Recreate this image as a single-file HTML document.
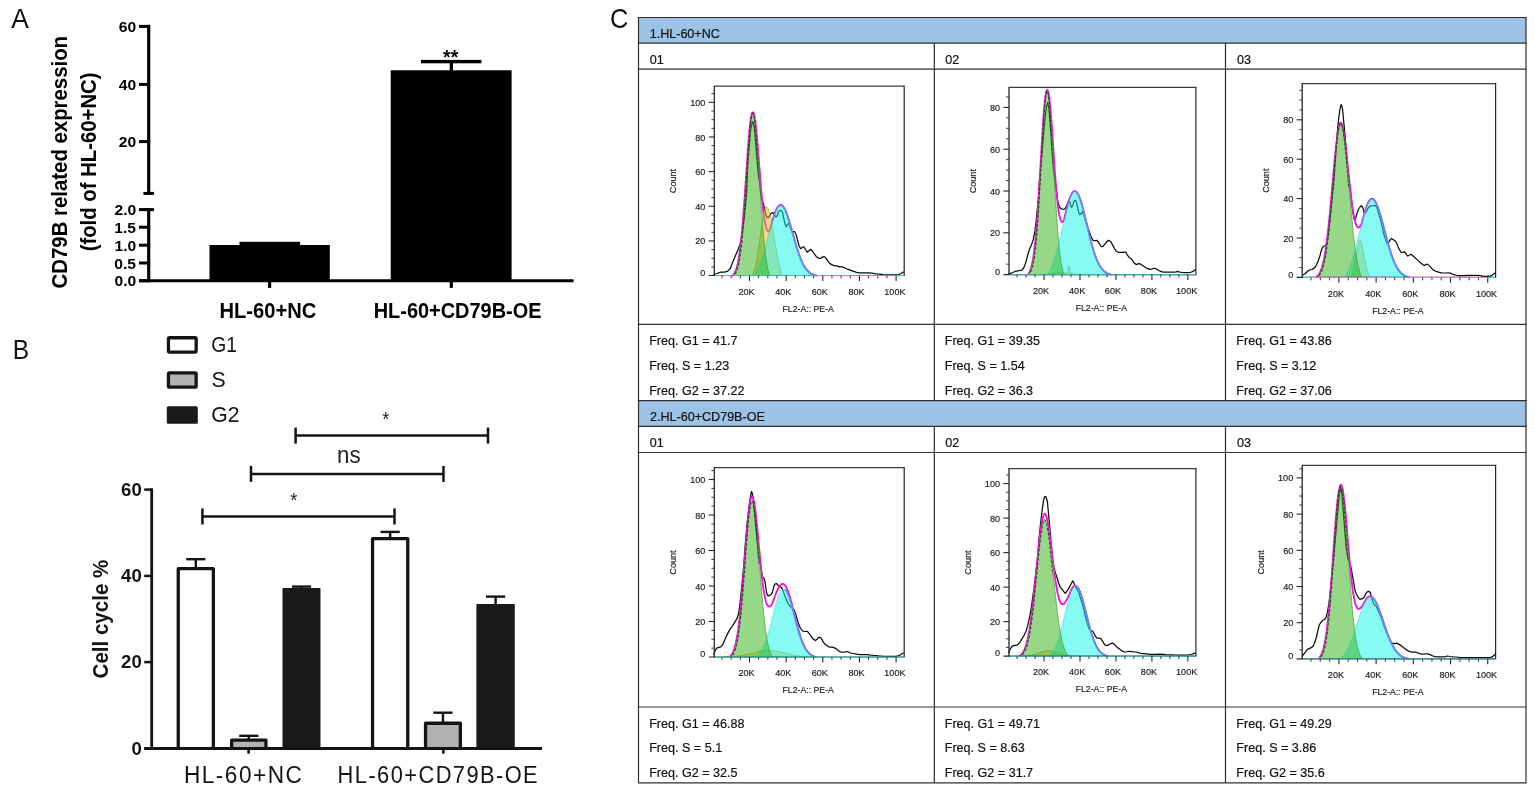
<!DOCTYPE html>
<html lang="en">
<head>
<meta charset="utf-8">
<title>Figure</title>
<style>
html,body{margin:0;padding:0;background:#fff;}
body{width:1535px;height:792px;overflow:hidden;}
svg{display:block;font-family:'Liberation Sans', sans-serif;}
</style>
</head>
<body>
<svg width="1535" height="792" viewBox="0 0 1535 792">
<rect x="0" y="0" width="1535" height="792" fill="#ffffff"/>
<g id="panelA">
<text transform="translate(11.33 28) scale(0.9334 1)" font-size="28.3" fill="#111" >A</text>
<line x1="148.7" y1="24.8" x2="148.7" y2="194.8" stroke="#000" stroke-width="3.2" />
<line x1="139" y1="26.4" x2="148.7" y2="26.4" stroke="#000" stroke-width="3" />
<line x1="139" y1="84.4" x2="148.7" y2="84.4" stroke="#000" stroke-width="3" />
<line x1="139" y1="141.6" x2="148.7" y2="141.6" stroke="#000" stroke-width="3" />
<line x1="143.4" y1="193.4" x2="154" y2="193.4" stroke="#000" stroke-width="3" />
<line x1="148.7" y1="208.2" x2="148.7" y2="282.2" stroke="#000" stroke-width="3.2" />
<line x1="143.4" y1="209.6" x2="154" y2="209.6" stroke="#000" stroke-width="3" />
<line x1="139" y1="209.6" x2="148.7" y2="209.6" stroke="#000" stroke-width="3" />
<line x1="139" y1="227.2" x2="148.7" y2="227.2" stroke="#000" stroke-width="3" />
<line x1="139" y1="245.2" x2="148.7" y2="245.2" stroke="#000" stroke-width="3" />
<line x1="139" y1="263" x2="148.7" y2="263" stroke="#000" stroke-width="3" />
<line x1="139" y1="280.7" x2="148.7" y2="280.7" stroke="#000" stroke-width="3" />
<line x1="139" y1="280.8" x2="573.6" y2="280.8" stroke="#000" stroke-width="3" />
<line x1="269.6" y1="280.8" x2="269.6" y2="287.9" stroke="#000" stroke-width="3.2" />
<line x1="451.3" y1="280.8" x2="451.3" y2="287.9" stroke="#000" stroke-width="3.2" />
<text transform="translate(118.85 32.1) scale(1.0300 1)" font-size="15.2" fill="#000" font-weight="bold" >60</text>
<text transform="translate(118.85 90.1) scale(1.0300 1)" font-size="15.2" fill="#000" font-weight="bold" >40</text>
<text transform="translate(118.85 147.3) scale(1.0300 1)" font-size="15.2" fill="#000" font-weight="bold" >20</text>
<text transform="translate(114.46 215.3) scale(1.0300 1)" font-size="15.2" fill="#000" font-weight="bold" >2.0</text>
<text transform="translate(114.27 232.9) scale(1.0300 1)" font-size="15.2" fill="#000" font-weight="bold" >1.5</text>
<text transform="translate(114.46 250.9) scale(1.0300 1)" font-size="15.2" fill="#000" font-weight="bold" >1.0</text>
<text transform="translate(114.27 268.7) scale(1.0300 1)" font-size="15.2" fill="#000" font-weight="bold" >0.5</text>
<text transform="translate(114.46 286.4) scale(1.0300 1)" font-size="15.2" fill="#000" font-weight="bold" >0.0</text>
<rect x="209.5" y="245" width="120.3" height="36" fill="#000" />
<rect x="239.5" y="241.8" width="60.6" height="3.6" fill="#000" />
<rect x="390.7" y="70.3" width="120.9" height="211" fill="#000" />
<rect x="421" y="59.9" width="60.5" height="3.4" fill="#000" />
<rect x="449.7" y="61" width="3.3" height="10" fill="#000" />
<text transform="translate(443.05 64.2) scale(0.9992 1)" font-size="19.5" fill="#000" font-weight="bold" >**</text>
<text transform="translate(219.44 317.6) scale(0.9333 1)" font-size="21.6" fill="#000" font-weight="bold" >HL-60+NC</text>
<text transform="translate(373.65 317.6) scale(0.9240 1)" font-size="21.6" fill="#000" font-weight="bold" >HL-60+CD79B-OE</text>
<text transform="translate(67.1 288.42) rotate(-90) scale(0.9348 1)" font-size="21.8" fill="#000" font-weight="bold">CD79B related expression</text>
<text transform="translate(96 251.32) rotate(-90) scale(0.9327 1)" font-size="21.8" fill="#000" font-weight="bold">(fold of HL-60+NC)</text>
</g>
<g id="panelB">
<text transform="translate(12.77 358.8) scale(0.9044 1)" font-size="27.2" fill="#111" >B</text>
<rect x="168.45" y="337.75" width="27.7" height="14.3" fill="#fff" stroke="#141414" stroke-width="3.3" rx="1.2"/>
<rect x="168.45" y="372.95" width="27.7" height="14.2" fill="#b2b2b2" stroke="#141414" stroke-width="3.3" rx="1.2"/>
<rect x="166.8" y="406.3" width="31" height="17.5" fill="#1a1a1a" rx="1.5"/>
<text transform="translate(211.33 352.1) scale(0.8796 1)" font-size="22" fill="#141414" >G1</text>
<text transform="translate(211.44 387) scale(0.9681 1)" font-size="22" fill="#141414" >S</text>
<text transform="translate(211.24 422.1) scale(0.9626 1)" font-size="22" fill="#141414" >G2</text>
<line x1="151.7" y1="488.3" x2="151.7" y2="749.8" stroke="#141414" stroke-width="2.8" />
<line x1="144.2" y1="489.6" x2="151.7" y2="489.6" stroke="#141414" stroke-width="2.5" />
<line x1="144.2" y1="575.9" x2="151.7" y2="575.9" stroke="#141414" stroke-width="2.5" />
<line x1="144.2" y1="662.1" x2="151.7" y2="662.1" stroke="#141414" stroke-width="2.5" />
<line x1="144.2" y1="748.4" x2="151.7" y2="748.4" stroke="#141414" stroke-width="2.5" />
<line x1="248.6" y1="748.4" x2="248.6" y2="753.7" stroke="#141414" stroke-width="2.6" />
<line x1="443.3" y1="748.4" x2="443.3" y2="753.7" stroke="#141414" stroke-width="2.6" />
<text transform="translate(121.1 495.9) scale(1.0000 1)" font-size="18.6" fill="#141414" font-weight="bold" >60</text>
<text transform="translate(121.1 582.2) scale(1.0000 1)" font-size="18.6" fill="#141414" font-weight="bold" >40</text>
<text transform="translate(121.1 668.4) scale(1.0000 1)" font-size="18.6" fill="#141414" font-weight="bold" >20</text>
<text transform="translate(131.42 754.7) scale(1.0000 1)" font-size="18.6" fill="#141414" font-weight="bold" >0</text>
<text transform="translate(108.1 678.42) rotate(-90) scale(0.9423 1)" font-size="21.8" fill="#141414" font-weight="bold">Cell cycle %</text>
<line x1="195.8" y1="559.2" x2="195.8" y2="568" stroke="#141414" stroke-width="2.4" />
<line x1="186.2" y1="559.2" x2="205.4" y2="559.2" stroke="#141414" stroke-width="2.4" />
<rect x="178.25" y="568.65" width="35.1" height="181.4" fill="#fff" />
<path d="M178.25,748.4 V568.65 H213.35 V748.4" fill="none" stroke="#141414" stroke-width="3.3" stroke-linejoin="round"/>
<line x1="248.8" y1="735.8" x2="248.8" y2="739.5" stroke="#141414" stroke-width="2.4" />
<line x1="239.2" y1="735.8" x2="258.4" y2="735.8" stroke="#141414" stroke-width="2.4" />
<rect x="231.65" y="740.15" width="34.3" height="9.9" fill="#b2b2b2" />
<path d="M231.65,748.4 V740.15 H265.95 V748.4" fill="none" stroke="#141414" stroke-width="3.3" stroke-linejoin="round"/>
<line x1="301.5" y1="586.6" x2="301.5" y2="589" stroke="#141414" stroke-width="2.4" />
<line x1="291.9" y1="586.6" x2="311.1" y2="586.6" stroke="#141414" stroke-width="2.4" />
<rect x="282.5" y="588" width="38" height="160.4" fill="#1a1a1a" rx="0.8"/>
<line x1="390.15" y1="531.9" x2="390.15" y2="538" stroke="#141414" stroke-width="2.4" />
<line x1="380.55" y1="531.9" x2="399.75" y2="531.9" stroke="#141414" stroke-width="2.4" />
<rect x="372.55" y="538.65" width="35.2" height="211.4" fill="#fff" />
<path d="M372.55,748.4 V538.65 H407.75 V748.4" fill="none" stroke="#141414" stroke-width="3.3" stroke-linejoin="round"/>
<line x1="442.95" y1="712.7" x2="442.95" y2="722.6" stroke="#141414" stroke-width="2.4" />
<line x1="433.35" y1="712.7" x2="452.55" y2="712.7" stroke="#141414" stroke-width="2.4" />
<rect x="425.55" y="723.25" width="34.8" height="26.8" fill="#b2b2b2" />
<path d="M425.55,748.4 V723.25 H460.35 V748.4" fill="none" stroke="#141414" stroke-width="3.3" stroke-linejoin="round"/>
<line x1="495.6" y1="596.6" x2="495.6" y2="605" stroke="#141414" stroke-width="2.4" />
<line x1="486" y1="596.6" x2="505.2" y2="596.6" stroke="#141414" stroke-width="2.4" />
<rect x="476.4" y="604" width="38.4" height="144.4" fill="#1a1a1a" rx="0.8"/>
<line x1="144.2" y1="748.5" x2="542" y2="748.5" stroke="#141414" stroke-width="2.8" />
<line x1="202.4" y1="516.5" x2="394.5" y2="516.5" stroke="#141414" stroke-width="2.5" />
<line x1="202.4" y1="508.5" x2="202.4" y2="524.5" stroke="#141414" stroke-width="2.5" />
<line x1="394.5" y1="508.5" x2="394.5" y2="524.5" stroke="#141414" stroke-width="2.5" />
<line x1="251" y1="473.9" x2="443.5" y2="473.9" stroke="#141414" stroke-width="2.5" />
<line x1="251" y1="465.9" x2="251" y2="481.9" stroke="#141414" stroke-width="2.5" />
<line x1="443.5" y1="465.9" x2="443.5" y2="481.9" stroke="#141414" stroke-width="2.5" />
<line x1="295.6" y1="435.6" x2="488" y2="435.6" stroke="#141414" stroke-width="2.5" />
<line x1="295.6" y1="427.6" x2="295.6" y2="443.6" stroke="#141414" stroke-width="2.5" />
<line x1="488" y1="427.6" x2="488" y2="443.6" stroke="#141414" stroke-width="2.5" />
<text transform="translate(290.18 507) scale(0.9294 1)" font-size="19.7" fill="#222" >*</text>
<text transform="translate(337.09 463.3) scale(0.9556 1)" font-size="23.4" fill="#222" >ns</text>
<text transform="translate(382.28 425.8) scale(0.9151 1)" font-size="19.7" fill="#222" >*</text>
<text transform="translate(183.93 782.9) scale(0.9351 1)" font-size="24.2" fill="#141414" letter-spacing="1.6" >HL-60+NC</text>
<text transform="translate(337.6 782.9) scale(0.9023 1)" font-size="24.2" fill="#141414" letter-spacing="1.6" >HL-60+CD79B-OE</text>
</g>
<g id="panelC">
<text transform="translate(610.03 28) scale(0.8959 1)" font-size="28.3" fill="#111" >C</text>
<rect x="638.5" y="17.5" width="887.5" height="25.6" fill="#9cc2e5" />
<rect x="638.5" y="400.6" width="887.5" height="25.8" fill="#9cc2e5" />
<line x1="637.9" y1="17.5" x2="1526.6" y2="17.5" stroke="#2e2e2e" stroke-width="1.2" />
<line x1="637.9" y1="43.1" x2="1526.6" y2="43.1" stroke="#2e2e2e" stroke-width="1.2" />
<line x1="637.9" y1="69.1" x2="1526.6" y2="69.1" stroke="#2e2e2e" stroke-width="1.2" />
<line x1="637.9" y1="324.4" x2="1526.6" y2="324.4" stroke="#2e2e2e" stroke-width="1.2" />
<line x1="637.9" y1="400.6" x2="1526.6" y2="400.6" stroke="#2e2e2e" stroke-width="1.2" />
<line x1="637.9" y1="426.4" x2="1526.6" y2="426.4" stroke="#2e2e2e" stroke-width="1.2" />
<line x1="637.9" y1="452.5" x2="1526.6" y2="452.5" stroke="#2e2e2e" stroke-width="1.2" />
<line x1="637.9" y1="707" x2="1526.6" y2="707" stroke="#2e2e2e" stroke-width="1.2" />
<line x1="637.9" y1="782.8" x2="1526.6" y2="782.8" stroke="#2e2e2e" stroke-width="1.2" />
<line x1="638.5" y1="17.5" x2="638.5" y2="782.8" stroke="#2e2e2e" stroke-width="1.2" />
<line x1="1526" y1="17.5" x2="1526" y2="782.8" stroke="#2e2e2e" stroke-width="1.2" />
<line x1="934.3" y1="43.1" x2="934.3" y2="400.6" stroke="#2e2e2e" stroke-width="1.2" />
<line x1="934.3" y1="426.4" x2="934.3" y2="782.8" stroke="#2e2e2e" stroke-width="1.2" />
<line x1="1225.5" y1="43.1" x2="1225.5" y2="400.6" stroke="#2e2e2e" stroke-width="1.2" />
<line x1="1225.5" y1="426.4" x2="1225.5" y2="782.8" stroke="#2e2e2e" stroke-width="1.2" />
<text transform="translate(649.66 37.8) scale(0.9600 1)" font-size="13.1" fill="#111" stroke="#111" stroke-width="0.21" >1.HL-60+NC</text>
<text transform="translate(649.97 421.3) scale(0.9600 1)" font-size="13.1" fill="#111" stroke="#111" stroke-width="0.21" >2.HL-60+CD79B-OE</text>
<text transform="translate(649.7 63.5) scale(0.9600 1)" font-size="13.1" fill="#111" stroke="#111" stroke-width="0.21" >01</text>
<text transform="translate(649.7 447) scale(0.9600 1)" font-size="13.1" fill="#111" stroke="#111" stroke-width="0.21" >01</text>
<text transform="translate(945.3 63.5) scale(0.9600 1)" font-size="13.1" fill="#111" stroke="#111" stroke-width="0.21" >02</text>
<text transform="translate(945.3 447) scale(0.9600 1)" font-size="13.1" fill="#111" stroke="#111" stroke-width="0.21" >02</text>
<text transform="translate(1236.9 63.5) scale(0.9600 1)" font-size="13.1" fill="#111" stroke="#111" stroke-width="0.21" >03</text>
<text transform="translate(1236.9 447) scale(0.9600 1)" font-size="13.1" fill="#111" stroke="#111" stroke-width="0.21" >03</text>
<text transform="translate(649.16 345) scale(0.9600 1)" font-size="13.1" fill="#111" stroke="#111" stroke-width="0.21" >Freq. G1 = 41.7</text>
<text transform="translate(649.16 370) scale(0.9600 1)" font-size="13.1" fill="#111" stroke="#111" stroke-width="0.21" >Freq. S = 1.23</text>
<text transform="translate(649.16 395) scale(0.9600 1)" font-size="13.1" fill="#111" stroke="#111" stroke-width="0.21" >Freq. G2 = 37.22</text>
<text transform="translate(944.76 345) scale(0.9600 1)" font-size="13.1" fill="#111" stroke="#111" stroke-width="0.21" >Freq. G1 = 39.35</text>
<text transform="translate(944.76 370) scale(0.9600 1)" font-size="13.1" fill="#111" stroke="#111" stroke-width="0.21" >Freq. S = 1.54</text>
<text transform="translate(944.76 395) scale(0.9600 1)" font-size="13.1" fill="#111" stroke="#111" stroke-width="0.21" >Freq. G2 = 36.3</text>
<text transform="translate(1236.36 345) scale(0.9600 1)" font-size="13.1" fill="#111" stroke="#111" stroke-width="0.21" >Freq. G1 = 43.86</text>
<text transform="translate(1236.36 370) scale(0.9600 1)" font-size="13.1" fill="#111" stroke="#111" stroke-width="0.21" >Freq. S = 3.12</text>
<text transform="translate(1236.36 395) scale(0.9600 1)" font-size="13.1" fill="#111" stroke="#111" stroke-width="0.21" >Freq. G2 = 37.06</text>
<text transform="translate(649.16 727.8) scale(0.9600 1)" font-size="13.1" fill="#111" stroke="#111" stroke-width="0.21" >Freq. G1 = 46.88</text>
<text transform="translate(649.16 752.4) scale(0.9600 1)" font-size="13.1" fill="#111" stroke="#111" stroke-width="0.21" >Freq. S = 5.1</text>
<text transform="translate(649.16 777.3) scale(0.9600 1)" font-size="13.1" fill="#111" stroke="#111" stroke-width="0.21" >Freq. G2 = 32.5</text>
<text transform="translate(944.76 727.8) scale(0.9600 1)" font-size="13.1" fill="#111" stroke="#111" stroke-width="0.21" >Freq. G1 = 49.71</text>
<text transform="translate(944.76 752.4) scale(0.9600 1)" font-size="13.1" fill="#111" stroke="#111" stroke-width="0.21" >Freq. S = 8.63</text>
<text transform="translate(944.76 777.3) scale(0.9600 1)" font-size="13.1" fill="#111" stroke="#111" stroke-width="0.21" >Freq. G2 = 31.7</text>
<text transform="translate(1236.36 727.8) scale(0.9600 1)" font-size="13.1" fill="#111" stroke="#111" stroke-width="0.21" >Freq. G1 = 49.29</text>
<text transform="translate(1236.36 752.4) scale(0.9600 1)" font-size="13.1" fill="#111" stroke="#111" stroke-width="0.21" >Freq. S = 3.86</text>
<text transform="translate(1236.36 777.3) scale(0.9600 1)" font-size="13.1" fill="#111" stroke="#111" stroke-width="0.21" >Freq. G2 = 35.6</text>
<g>
<path d="M713.3,274.5 717.1,273.5 720.8,272.2 724.6,272.2 727.8,271.2 730.3,268.4 732.8,262.1 735.4,255.8 737.9,250.1 740.0,244.4 741.7,237.5 742.9,228.0 744.2,217.9 745.5,205.3 746.7,192.6 747.7,165.9 748.9,150.0 750.7,129.5 751.8,123.9 752.7,121.6 753.6,123.9 754.5,129.5 756.4,152.3 758.4,175.0 759.4,180.0 760.4,190.1 761.3,198.3 762.5,200.8 763.8,205.3 765.1,211.6 766.6,216.6 768.2,217.9 769.9,215.4 771.4,213.1 773.0,212.6 774.5,214.7 775.8,216.9 777.1,216.0 778.3,212.2 779.6,210.6 781.2,210.3 782.7,212.8 783.7,217.9 785.0,224.2 786.3,226.7 787.5,224.2 788.8,223.6 790.3,228.0 791.8,231.2 792.0,231.8 794.5,231.5 796.1,234.3 797.6,240.4 799.1,246.0 800.6,248.7 802.1,247.5 803.6,246.7 805.2,249.0 807.2,252.3 809.2,250.5 811.0,249.3 812.7,251.5 814.7,254.5 816.8,257.1 818.8,258.4 820.8,258.3 822.3,257.1 824.3,256.6 825.9,258.1 827.9,261.1 829.9,263.6 831.9,264.6 833.9,265.7 836.5,265.9 839.5,266.9 842.0,266.9 844.5,267.7 847.6,269.2 851.6,270.7 855.7,272.2 858.7,272.9 862.7,272.9 867.8,272.9 871.8,273.2 875.9,273.9 879.9,274.2 882.9,274.7 889.0,274.9 895.1,274.9 898.6,274.5 901.1,273.5 903.6,271.9" fill="none" stroke="#0c0c0c" stroke-width="1.25" stroke-linejoin="round"/>
<path d="M731.9,275.6 732.6,275.5 733.4,274.8 734.1,273.8 734.8,272.6 735.6,271.0 736.3,269.0 737.0,266.5 737.8,263.4 738.5,259.7 739.2,255.3 740.0,250.0 740.7,244.0 741.4,237.0 742.2,229.2 742.9,220.5 743.6,211.1 744.4,201.1 745.1,190.5 745.8,179.7 746.6,168.8 747.3,158.2 748.0,148.0 748.8,138.6 749.5,130.2 750.2,123.3 751.0,117.8 751.7,114.2 752.4,112.4 753.2,112.3 753.9,113.7 754.6,116.8 755.4,121.7 756.1,128.1 756.8,135.6 757.6,144.1 758.3,153.3 759.0,162.8 759.8,172.3 760.5,181.6 761.2,190.4 762.0,198.6 762.7,205.9 763.4,212.4 764.2,217.9 764.9,222.3 765.6,225.8 766.4,228.4 767.1,230.1 767.8,231.1 768.6,231.3 769.3,231.0 770.0,229.4 770.8,226.6 771.5,223.9 772.2,221.4 773.0,218.9 773.7,216.5 774.4,214.3 775.2,212.3 775.9,210.5 776.6,209.0 777.4,207.6 778.1,206.6 778.8,205.7 779.6,205.2 780.3,204.9 781.0,205.0 781.8,205.2 782.5,205.8 783.2,206.6 784.0,207.7 784.7,208.9 785.4,210.5 786.1,212.2 786.9,214.1 787.6,216.2 788.3,218.4 789.1,220.7 789.8,223.2 790.5,225.7 791.3,228.3 792.0,231.0 792.7,233.6 793.5,236.3 794.2,238.9 794.9,241.5 795.7,244.0 796.4,246.4 797.1,248.8 797.9,251.1 798.6,253.3 799.3,255.3 800.1,257.3 800.8,259.1 801.5,260.8 802.3,262.4 803.0,263.9 803.7,265.3 804.5,266.5 805.2,267.7 805.9,268.7 806.7,269.7 807.4,270.5 808.1,271.3 808.9,272.0 809.6,272.6 810.3,273.1 811.1,273.6 811.8,274.0 812.5,274.3 813.3,274.6 814.0,274.9 814.7,275.2 815.5,275.4 816.2,275.5 816.9,275.6" fill="none" stroke="#f410e4" stroke-width="1.85" stroke-linejoin="round"/>
<path d="M751.7,275.6 752.4,275.1 753.2,273.5 753.9,271.5 754.6,269.0 755.4,266.1 756.1,262.8 756.8,258.9 757.6,254.6 758.3,249.9 759.0,244.9 759.8,239.6 760.5,234.3 761.2,228.9 762.0,223.8 762.7,219.1 763.4,214.9 764.2,211.4 764.9,208.8 765.6,207.2 766.4,206.6 767.1,207.0 767.8,208.0 768.6,209.6 769.3,211.8 770.0,214.6 770.8,217.9 771.5,221.6 772.2,225.7 773.0,229.9 773.7,234.4 774.4,238.9 775.2,243.4 775.9,247.8 776.6,252.0 777.4,256.1 778.1,259.9 778.8,263.4 779.6,266.7 780.3,269.7 781.0,272.3 781.8,274.7 782.5,275.6 L782.5,275.6 L751.7,275.6Z" fill="#ebb21c" fill-opacity="0.5" stroke="#96a428" stroke-width="0.8" stroke-opacity="0.8"/>
<path d="M752.4,275.6 753.2,275.3 753.9,274.5 754.6,273.6 755.4,272.6 756.1,271.5 756.8,270.2 757.6,268.9 758.3,267.4 759.0,265.8 759.8,264.1 760.5,262.3 761.2,260.3 762.0,258.2 762.7,256.0 763.4,253.6 764.2,251.2 764.9,248.7 765.6,246.0 766.4,243.3 767.1,240.6 767.8,237.8 768.6,235.0 769.3,232.2 770.0,229.4 770.8,226.6 771.5,223.9 772.2,221.4 773.0,218.9 773.7,216.5 774.4,214.3 775.2,212.3 775.9,210.5 776.6,209.0 777.4,207.6 778.1,206.6 778.8,205.7 779.6,205.2 780.3,204.9 781.0,205.0 781.8,205.2 782.5,205.8 783.2,206.6 784.0,207.7 784.7,208.9 785.4,210.5 786.1,212.2 786.9,214.1 787.6,216.2 788.3,218.4 789.1,220.7 789.8,223.2 790.5,225.7 791.3,228.3 792.0,231.0 792.7,233.6 793.5,236.3 794.2,238.9 794.9,241.5 795.7,244.0 796.4,246.4 797.1,248.8 797.9,251.1 798.6,253.3 799.3,255.3 800.1,257.3 800.8,259.1 801.5,260.8 802.3,262.4 803.0,263.9 803.7,265.3 804.5,266.5 805.2,267.7 805.9,268.7 806.7,269.7 807.4,270.5 808.1,271.3 808.9,272.0 809.6,272.6 810.3,273.1 811.1,273.6 811.8,274.0 812.5,274.3 813.3,274.6 814.0,274.9 814.7,275.2 815.5,275.4 816.2,275.5 816.9,275.6 L816.9,275.6 L752.4,275.6Z" fill="#12f6ea" fill-opacity="0.5"/>
<path d="M731.9,275.6 732.6,275.5 733.4,274.8 734.1,273.8 734.8,272.6 735.6,271.0 736.3,269.0 737.0,266.5 737.8,263.4 738.5,259.7 739.2,255.3 740.0,250.0 740.7,244.0 741.4,237.0 742.2,229.2 742.9,220.5 743.6,211.1 744.4,201.1 745.1,190.5 745.8,179.7 746.6,168.8 747.3,158.2 748.0,148.0 748.8,138.6 749.5,130.2 750.2,123.3 751.0,117.8 751.7,114.2 752.4,112.4 753.2,112.6 753.9,114.7 754.6,118.8 755.4,124.7 756.1,132.2 756.8,141.0 757.6,150.8 758.3,161.5 759.0,172.5 759.8,183.8 760.5,194.9 761.2,205.7 762.0,216.0 762.7,225.6 763.4,234.4 764.2,242.3 764.9,249.3 765.6,255.4 766.4,260.7 767.1,265.1 767.8,268.9 768.6,271.9 769.3,274.4 770.0,275.6 L770.0,275.6 L731.9,275.6Z" fill="#2fb012" fill-opacity="0.5"/>
<path d="M734.8,274.1 735.6,273.1 736.3,271.8 737.0,270.0 737.8,267.8 738.5,265.0 739.2,261.5 740.0,257.1 740.7,251.9 741.4,245.8 742.2,238.6 742.9,230.4 743.6,221.2 744.4,211.1 745.1,200.2 745.8,188.8 746.6,177.1 747.3,165.4 748.0,154.1 748.8,143.5 749.5,134.0 750.2,125.9 751.0,119.6 751.7,115.3 752.4,113.2 753.2,113.4 753.9,115.9 754.6,120.7 755.4,127.4 756.1,135.9 756.8,145.8 757.6,156.8 758.3,168.5 759.0,180.4" fill="none" stroke="#0b3a0b" stroke-width="1.1" stroke-opacity="0.8" stroke-dasharray="3 1.6"/>
<path d="M757.6,150.8 758.3,161.5 759.0,172.5 759.8,183.8 760.5,194.9 761.2,205.7 762.0,216.0 762.7,225.6 763.4,234.4 764.2,242.3 764.9,249.3 765.6,255.4 766.4,260.7 767.1,265.1 767.8,268.9 768.6,271.9 769.3,274.4 770.0,275.6" fill="none" stroke="#36a82a" stroke-width="0.9" stroke-opacity="0.8"/>
<path d="M752.4,275.6 753.2,275.3 753.9,274.5 754.6,273.6 755.4,272.6 756.1,271.5 756.8,270.2 757.6,268.9 758.3,267.4 759.0,265.8 759.8,264.1 760.5,262.3 761.2,260.3 762.0,258.2 762.7,256.0 763.4,253.6 764.2,251.2 764.9,248.7 765.6,246.0 766.4,243.3 767.1,240.6 767.8,237.8 768.6,235.0 769.3,232.2 770.0,229.4 770.8,226.6 771.5,223.9 772.2,221.4 773.0,218.9 773.7,216.5 774.4,214.3 775.2,212.3 775.9,210.5 776.6,209.0 777.4,207.6 778.1,206.6" fill="none" stroke="#22c4b0" stroke-width="0.7" stroke-opacity="0.6"/>
<path d="M781.8,205.2 782.5,205.8 783.2,206.6 784.0,207.7 784.7,208.9 785.4,210.5 786.1,212.2 786.9,214.1 787.6,216.2 788.3,218.4 789.1,220.7 789.8,223.2 790.5,225.7 791.3,228.3 792.0,231.0 792.7,233.6 793.5,236.3 794.2,238.9 794.9,241.5 795.7,244.0 796.4,246.4 797.1,248.8 797.9,251.1 798.6,253.3 799.3,255.3 800.1,257.3 800.8,259.1 801.5,260.8 802.3,262.4 803.0,263.9 803.7,265.3 804.5,266.5 805.2,267.7 805.9,268.7 806.7,269.7 807.4,270.5 808.1,271.3 808.9,272.0 809.6,272.6 810.3,273.1 811.1,273.6 811.8,274.0 812.5,274.3 813.3,274.6 814.0,274.9 814.7,275.2 815.5,275.4 816.2,275.5 816.9,275.6" fill="none" stroke="#5590ff" stroke-width="1.7" stroke-opacity="0.95"/>
<line x1="713.8" y1="86.1" x2="904.8" y2="86.1" stroke="#3c3c3c" stroke-width="1.1" />
<line x1="904.2" y1="86.1" x2="904.2" y2="275.5" stroke="#262626" stroke-width="1.2" />
<line x1="714.3" y1="86.1" x2="714.3" y2="276" stroke="#262626" stroke-width="1.3" />
<line x1="708.7" y1="275.5" x2="904.7" y2="275.5" stroke="#262626" stroke-width="1.2" />
<line x1="715.1" y1="275.6" x2="904.2" y2="275.6" stroke="#44cfcf" stroke-width="1" />
<line x1="711.4" y1="266.94" x2="714.3" y2="266.94" stroke="#3a3a3a" stroke-width="1" />
<line x1="711.4" y1="258.28" x2="714.3" y2="258.28" stroke="#3a3a3a" stroke-width="1" />
<line x1="711.4" y1="249.61" x2="714.3" y2="249.61" stroke="#3a3a3a" stroke-width="1" />
<line x1="708.7" y1="240.95" x2="714.3" y2="240.95" stroke="#262626" stroke-width="1.1" />
<line x1="711.4" y1="232.29" x2="714.3" y2="232.29" stroke="#3a3a3a" stroke-width="1" />
<line x1="711.4" y1="223.63" x2="714.3" y2="223.63" stroke="#3a3a3a" stroke-width="1" />
<line x1="711.4" y1="214.96" x2="714.3" y2="214.96" stroke="#3a3a3a" stroke-width="1" />
<line x1="708.7" y1="206.3" x2="714.3" y2="206.3" stroke="#262626" stroke-width="1.1" />
<line x1="711.4" y1="197.64" x2="714.3" y2="197.64" stroke="#3a3a3a" stroke-width="1" />
<line x1="711.4" y1="188.98" x2="714.3" y2="188.98" stroke="#3a3a3a" stroke-width="1" />
<line x1="711.4" y1="180.31" x2="714.3" y2="180.31" stroke="#3a3a3a" stroke-width="1" />
<line x1="708.7" y1="171.65" x2="714.3" y2="171.65" stroke="#262626" stroke-width="1.1" />
<line x1="711.4" y1="162.99" x2="714.3" y2="162.99" stroke="#3a3a3a" stroke-width="1" />
<line x1="711.4" y1="154.33" x2="714.3" y2="154.33" stroke="#3a3a3a" stroke-width="1" />
<line x1="711.4" y1="145.66" x2="714.3" y2="145.66" stroke="#3a3a3a" stroke-width="1" />
<line x1="708.7" y1="137" x2="714.3" y2="137" stroke="#262626" stroke-width="1.1" />
<line x1="711.4" y1="128.34" x2="714.3" y2="128.34" stroke="#3a3a3a" stroke-width="1" />
<line x1="711.4" y1="119.68" x2="714.3" y2="119.68" stroke="#3a3a3a" stroke-width="1" />
<line x1="711.4" y1="111.01" x2="714.3" y2="111.01" stroke="#3a3a3a" stroke-width="1" />
<line x1="708.7" y1="102.35" x2="714.3" y2="102.35" stroke="#262626" stroke-width="1.1" />
<line x1="711.4" y1="93.69" x2="714.3" y2="93.69" stroke="#3a3a3a" stroke-width="1" />
<text transform="translate(700.29 275.9) scale(0.9200 1)" font-size="9.9" fill="#1c1c1c" stroke="#1c1c1c" stroke-width="0.18" >0</text>
<text transform="translate(695.23 244.45) scale(0.9200 1)" font-size="9.9" fill="#1c1c1c" stroke="#1c1c1c" stroke-width="0.18" >20</text>
<text transform="translate(695.23 209.8) scale(0.9200 1)" font-size="9.9" fill="#1c1c1c" stroke="#1c1c1c" stroke-width="0.18" >40</text>
<text transform="translate(695.23 175.15) scale(0.9200 1)" font-size="9.9" fill="#1c1c1c" stroke="#1c1c1c" stroke-width="0.18" >60</text>
<text transform="translate(695.23 140.5) scale(0.9200 1)" font-size="9.9" fill="#1c1c1c" stroke="#1c1c1c" stroke-width="0.18" >80</text>
<text transform="translate(690.15 105.85) scale(0.9200 1)" font-size="9.9" fill="#1c1c1c" stroke="#1c1c1c" stroke-width="0.18" >100</text>
<line x1="722.01" y1="275.5" x2="722.01" y2="278.4" stroke="#3a3a3a" stroke-width="1" />
<line x1="731.18" y1="275.5" x2="731.18" y2="278.4" stroke="#3a3a3a" stroke-width="1" />
<line x1="740.34" y1="275.5" x2="740.34" y2="278.4" stroke="#3a3a3a" stroke-width="1" />
<line x1="749.5" y1="275.5" x2="749.5" y2="280.9" stroke="#262626" stroke-width="1.1" />
<text transform="translate(738.42 294.6) scale(0.9200 1)" font-size="9.9" fill="#1c1c1c" stroke="#1c1c1c" stroke-width="0.18" >20K</text>
<line x1="758.66" y1="275.5" x2="758.66" y2="278.4" stroke="#3a3a3a" stroke-width="1" />
<line x1="767.83" y1="275.5" x2="767.83" y2="278.4" stroke="#3a3a3a" stroke-width="1" />
<line x1="776.99" y1="275.5" x2="776.99" y2="278.4" stroke="#3a3a3a" stroke-width="1" />
<line x1="786.15" y1="275.5" x2="786.15" y2="280.9" stroke="#262626" stroke-width="1.1" />
<text transform="translate(775.2 294.6) scale(0.9200 1)" font-size="9.9" fill="#1c1c1c" stroke="#1c1c1c" stroke-width="0.18" >40K</text>
<line x1="795.31" y1="275.5" x2="795.31" y2="278.4" stroke="#3a3a3a" stroke-width="1" />
<line x1="804.48" y1="275.5" x2="804.48" y2="278.4" stroke="#3a3a3a" stroke-width="1" />
<line x1="813.64" y1="275.5" x2="813.64" y2="278.4" stroke="#3a3a3a" stroke-width="1" />
<line x1="822.8" y1="275.5" x2="822.8" y2="280.9" stroke="#262626" stroke-width="1.1" />
<text transform="translate(811.72 294.6) scale(0.9200 1)" font-size="9.9" fill="#1c1c1c" stroke="#1c1c1c" stroke-width="0.18" >60K</text>
<line x1="831.96" y1="275.5" x2="831.96" y2="278.4" stroke="#3a3a3a" stroke-width="1" />
<line x1="841.12" y1="275.5" x2="841.12" y2="278.4" stroke="#3a3a3a" stroke-width="1" />
<line x1="850.29" y1="275.5" x2="850.29" y2="278.4" stroke="#3a3a3a" stroke-width="1" />
<line x1="859.45" y1="275.5" x2="859.45" y2="280.9" stroke="#262626" stroke-width="1.1" />
<text transform="translate(848.41 294.6) scale(0.9200 1)" font-size="9.9" fill="#1c1c1c" stroke="#1c1c1c" stroke-width="0.18" >80K</text>
<line x1="868.61" y1="275.5" x2="868.61" y2="278.4" stroke="#3a3a3a" stroke-width="1" />
<line x1="877.78" y1="275.5" x2="877.78" y2="278.4" stroke="#3a3a3a" stroke-width="1" />
<line x1="886.94" y1="275.5" x2="886.94" y2="278.4" stroke="#3a3a3a" stroke-width="1" />
<line x1="896.1" y1="275.5" x2="896.1" y2="280.9" stroke="#262626" stroke-width="1.1" />
<text transform="translate(884.28 294.6) scale(0.9200 1)" font-size="9.9" fill="#1c1c1c" stroke="#1c1c1c" stroke-width="0.18" >100K</text>
<text transform="translate(782.48 311.7) scale(0.9000 1)" font-size="9.7" fill="#1c1c1c" stroke="#1c1c1c" stroke-width="0.18" >FL2-A:: PE-A</text>
<text transform="translate(676.2 193.14) rotate(-90) scale(0.9200 1)" font-size="9.9" fill="#1c1c1c" stroke="#1c1c1c" stroke-width="0.18">Count</text>
</g>
<g>
<path d="M1008.3,274.1 1012.1,272.8 1015.8,271.2 1019.6,270.7 1022.2,269.9 1024.1,267.2 1025.9,262.1 1027.8,254.5 1029.7,248.8 1031.6,244.4 1033.3,239.4 1034.8,231.8 1036.1,221.7 1037.3,209.1 1038.6,195.2 1039.6,180.0 1040.7,166.3 1041.7,156.4 1043.4,136.7 1045.1,117.0 1046.6,105.9 1047.6,102.7 1048.8,107.2 1050.0,121.9 1051.3,139.2 1052.5,156.4 1054.0,171.2 1054.7,180.0 1056.0,187.6 1056.9,195.2 1057.8,201.5 1059.0,205.9 1060.7,208.4 1062.6,209.3 1064.5,209.1 1066.1,207.2 1067.6,203.4 1068.9,200.2 1069.9,202.1 1070.8,205.9 1071.7,207.5 1072.7,205.3 1073.9,201.5 1075.2,200.2 1076.5,202.1 1077.5,206.5 1078.7,212.2 1080.0,214.7 1081.3,213.5 1082.5,211.6 1083.8,215.4 1085.3,220.4 1087.2,225.5 1088.0,228.3 1089.5,232.3 1091.1,236.9 1093.1,240.4 1095.1,240.6 1097.1,240.4 1099.1,243.4 1101.2,246.5 1102.7,246.7 1104.7,244.4 1106.7,241.6 1108.7,240.4 1110.3,241.2 1112.3,244.4 1114.3,248.3 1116.3,251.3 1118.3,252.3 1121.4,252.3 1124.4,252.1 1125.9,252.3 1127.4,255.1 1129.4,257.6 1131.5,259.1 1133.0,261.1 1134.5,263.4 1136.5,264.6 1138.0,263.8 1139.5,263.6 1141.6,264.8 1143.6,266.2 1145.6,267.5 1147.6,268.7 1149.6,269.3 1151.7,269.2 1153.7,268.3 1155.7,268.5 1157.7,269.7 1160.3,271.2 1162.8,272.1 1165.8,272.1 1169.8,272.0 1173.9,272.1 1176.4,271.9 1177.4,271.3 1178.9,271.9 1182.0,272.5 1186.0,272.7 1190.1,272.5 1192.6,271.7 1194.6,270.2 1195.6,269.2" fill="none" stroke="#0c0c0c" stroke-width="1.25" stroke-linejoin="round"/>
<path d="M1027.5,274.6 1028.2,274.0 1029.0,273.0 1029.7,271.7 1030.4,270.0 1031.1,267.8 1031.8,265.1 1032.5,261.7 1033.3,257.5 1034.0,252.6 1034.7,246.7 1035.4,239.8 1036.1,232.0 1036.9,223.1 1037.6,213.2 1038.3,202.4 1039.0,190.9 1039.7,178.7 1040.5,166.3 1041.2,153.7 1041.9,141.5 1042.6,129.8 1043.3,119.0 1044.0,109.6 1044.8,101.7 1045.5,95.7 1046.2,91.8 1046.9,90.1 1047.6,89.9 1048.4,91.8 1049.1,95.8 1049.8,101.8 1050.5,109.3 1051.2,118.2 1052.0,128.1 1052.7,138.7 1053.4,149.5 1054.1,160.2 1054.8,170.6 1055.6,180.4 1056.3,189.3 1057.0,197.2 1057.7,204.0 1058.4,209.7 1059.1,214.2 1059.9,217.6 1060.6,220.0 1061.3,221.4 1062.0,222.0 1062.7,221.8 1063.5,221.0 1064.2,219.4 1064.9,216.3 1065.6,213.2 1066.3,210.2 1067.1,207.3 1067.8,204.6 1068.5,202.1 1069.2,199.8 1069.9,197.7 1070.7,195.9 1071.4,194.4 1072.1,193.1 1072.8,192.1 1073.5,191.4 1074.2,191.1 1075.0,191.0 1075.7,191.3 1076.4,191.8 1077.1,192.7 1077.8,193.8 1078.6,195.2 1079.3,196.9 1080.0,198.8 1080.7,200.9 1081.4,203.2 1082.2,205.7 1082.9,208.4 1083.6,211.1 1084.3,214.0 1085.0,217.0 1085.8,220.0 1086.5,223.0 1087.2,226.1 1087.9,229.1 1088.6,232.1 1089.3,235.1 1090.1,238.0 1090.8,240.8 1091.5,243.5 1092.2,246.1 1092.9,248.6 1093.7,250.9 1094.4,253.2 1095.1,255.3 1095.8,257.3 1096.5,259.1 1097.3,260.8 1098.0,262.4 1098.7,263.8 1099.4,265.2 1100.1,266.4 1100.9,267.5 1101.6,268.5 1102.3,269.3 1103.0,270.1 1103.7,270.9 1104.4,271.5 1105.2,272.0 1105.9,272.5 1106.6,273.0 1107.3,273.3 1108.0,273.7 1108.8,274.0 1109.5,274.2 1110.2,274.4 1110.9,274.6" fill="none" stroke="#f410e4" stroke-width="1.85" stroke-linejoin="round"/>
<path d="M1039.0,274.6 1039.7,274.6 1040.5,274.6 1041.2,274.5 1041.9,274.5 1042.6,274.5 1043.3,274.4 1044.0,274.4 1044.8,274.3 1045.5,274.2 1046.2,274.2 1046.9,274.1 1047.6,274.0 1048.4,273.9 1049.1,273.8 1049.8,273.7 1050.5,273.6 1051.2,273.5 1052.0,273.4 1052.7,273.3 1053.4,273.2 1054.1,273.1 1054.8,273.0 1055.6,272.9 1056.3,272.8 1057.0,272.7 1057.7,272.6 1058.4,272.6 1059.1,272.6 1059.9,272.5 1060.6,272.5 1061.3,272.5 1062.0,272.5 1062.7,272.6 1063.5,272.6 1064.2,272.7 1064.9,272.7 1065.6,272.8 1066.3,272.9 1067.1,273.0 1067.8,271.6 1068.5,265.9 1069.2,266.3 1069.9,272.1 1070.7,273.5 1071.4,273.6 1072.1,273.7 1072.8,273.8 1073.5,273.9 1074.2,274.0 1075.0,274.1 1075.7,274.2 1076.4,274.2 1077.1,274.3 1077.8,274.4 1078.6,274.4 1079.3,274.5 1080.0,274.5 1080.7,274.5 1081.4,274.6 1082.2,274.6 L1082.2,274.6 L1039.0,274.6Z" fill="#ebb21c" fill-opacity="0.5" stroke="#96a428" stroke-width="0.8" stroke-opacity="0.8"/>
<path d="M1046.9,274.6 1047.6,273.8 1048.4,272.7 1049.1,271.6 1049.8,270.3 1050.5,269.0 1051.2,267.4 1052.0,265.8 1052.7,264.0 1053.4,262.1 1054.1,260.0 1054.8,257.8 1055.6,255.5 1056.3,253.0 1057.0,250.4 1057.7,247.6 1058.4,244.7 1059.1,241.8 1059.9,238.7 1060.6,235.6 1061.3,232.4 1062.0,229.2 1062.7,225.9 1063.5,222.7 1064.2,219.4 1064.9,216.3 1065.6,213.2 1066.3,210.2 1067.1,207.3 1067.8,204.6 1068.5,202.1 1069.2,199.8 1069.9,197.7 1070.7,195.9 1071.4,194.4 1072.1,193.1 1072.8,192.1 1073.5,191.4 1074.2,191.1 1075.0,191.0 1075.7,191.3 1076.4,191.8 1077.1,192.7 1077.8,193.8 1078.6,195.2 1079.3,196.9 1080.0,198.8 1080.7,200.9 1081.4,203.2 1082.2,205.7 1082.9,208.4 1083.6,211.1 1084.3,214.0 1085.0,217.0 1085.8,220.0 1086.5,223.0 1087.2,226.1 1087.9,229.1 1088.6,232.1 1089.3,235.1 1090.1,238.0 1090.8,240.8 1091.5,243.5 1092.2,246.1 1092.9,248.6 1093.7,250.9 1094.4,253.2 1095.1,255.3 1095.8,257.3 1096.5,259.1 1097.3,260.8 1098.0,262.4 1098.7,263.8 1099.4,265.2 1100.1,266.4 1100.9,267.5 1101.6,268.5 1102.3,269.3 1103.0,270.1 1103.7,270.9 1104.4,271.5 1105.2,272.0 1105.9,272.5 1106.6,273.0 1107.3,273.3 1108.0,273.7 1108.8,274.0 1109.5,274.2 1110.2,274.4 1110.9,274.6 L1110.9,274.6 L1046.9,274.6Z" fill="#12f6ea" fill-opacity="0.5"/>
<path d="M1027.5,274.6 1028.2,274.0 1029.0,273.0 1029.7,271.7 1030.4,270.0 1031.1,267.8 1031.8,265.1 1032.5,261.7 1033.3,257.5 1034.0,252.6 1034.7,246.7 1035.4,239.8 1036.1,232.0 1036.9,223.1 1037.6,213.2 1038.3,202.4 1039.0,190.9 1039.7,178.7 1040.5,166.3 1041.2,153.7 1041.9,141.5 1042.6,129.8 1043.3,119.0 1044.0,109.6 1044.8,101.7 1045.5,95.7 1046.2,91.8 1046.9,90.1 1047.6,90.7 1048.4,93.7 1049.1,98.8 1049.8,106.0 1050.5,115.0 1051.2,125.4 1052.0,136.9 1052.7,149.2 1053.4,162.0 1054.1,174.8 1054.8,187.4 1055.6,199.5 1056.3,210.9 1057.0,221.4 1057.7,231.0 1058.4,239.5 1059.1,247.0 1059.9,253.5 1060.6,259.0 1061.3,263.6 1062.0,267.4 1062.7,270.5 1063.5,273.0 1064.2,274.6 L1064.2,274.6 L1027.5,274.6Z" fill="#2fb012" fill-opacity="0.5"/>
<path d="M1030.4,272.2 1031.1,270.8 1031.8,269.0 1032.5,266.6 1033.3,263.5 1034.0,259.6 1034.7,254.9 1035.4,249.1 1036.1,242.1 1036.9,234.0 1037.6,224.7 1038.3,214.2 1039.0,202.6 1039.7,190.1 1040.5,176.9 1041.2,163.4 1041.9,149.9 1042.6,136.8 1043.3,124.6 1044.0,113.7 1044.8,104.5 1045.5,97.5 1046.2,92.9 1046.9,90.9 1047.6,91.7 1048.4,95.1 1049.1,101.1 1049.8,109.4 1050.5,119.7 1051.2,131.5 1052.0,144.4 1052.7,157.9 1053.4,171.7" fill="none" stroke="#0b3a0b" stroke-width="1.1" stroke-opacity="0.8" stroke-dasharray="3 1.6"/>
<path d="M1052.0,136.9 1052.7,149.2 1053.4,162.0 1054.1,174.8 1054.8,187.4 1055.6,199.5 1056.3,210.9 1057.0,221.4 1057.7,231.0 1058.4,239.5 1059.1,247.0 1059.9,253.5 1060.6,259.0 1061.3,263.6 1062.0,267.4 1062.7,270.5 1063.5,273.0 1064.2,274.6" fill="none" stroke="#36a82a" stroke-width="0.9" stroke-opacity="0.8"/>
<path d="M1046.9,274.6 1047.6,273.8 1048.4,272.7 1049.1,271.6 1049.8,270.3 1050.5,269.0 1051.2,267.4 1052.0,265.8 1052.7,264.0 1053.4,262.1 1054.1,260.0 1054.8,257.8 1055.6,255.5 1056.3,253.0 1057.0,250.4 1057.7,247.6 1058.4,244.7 1059.1,241.8 1059.9,238.7 1060.6,235.6 1061.3,232.4 1062.0,229.2 1062.7,225.9 1063.5,222.7 1064.2,219.4 1064.9,216.3 1065.6,213.2 1066.3,210.2 1067.1,207.3 1067.8,204.6 1068.5,202.1 1069.2,199.8 1069.9,197.7 1070.7,195.9 1071.4,194.4 1072.1,193.1" fill="none" stroke="#22c4b0" stroke-width="0.7" stroke-opacity="0.6"/>
<path d="M1075.7,191.3 1076.4,191.8 1077.1,192.7 1077.8,193.8 1078.6,195.2 1079.3,196.9 1080.0,198.8 1080.7,200.9 1081.4,203.2 1082.2,205.7 1082.9,208.4 1083.6,211.1 1084.3,214.0 1085.0,217.0 1085.8,220.0 1086.5,223.0 1087.2,226.1 1087.9,229.1 1088.6,232.1 1089.3,235.1 1090.1,238.0 1090.8,240.8 1091.5,243.5 1092.2,246.1 1092.9,248.6 1093.7,250.9 1094.4,253.2 1095.1,255.3 1095.8,257.3 1096.5,259.1 1097.3,260.8 1098.0,262.4 1098.7,263.8 1099.4,265.2 1100.1,266.4 1100.9,267.5 1101.6,268.5 1102.3,269.3 1103.0,270.1 1103.7,270.9 1104.4,271.5 1105.2,272.0 1105.9,272.5 1106.6,273.0 1107.3,273.3 1108.0,273.7 1108.8,274.0 1109.5,274.2 1110.2,274.4 1110.9,274.6" fill="none" stroke="#5590ff" stroke-width="1.7" stroke-opacity="0.95"/>
<line x1="1008.5" y1="87.4" x2="1196.5" y2="87.4" stroke="#3c3c3c" stroke-width="1.1" />
<line x1="1195.9" y1="87.4" x2="1195.9" y2="274.6" stroke="#262626" stroke-width="1.2" />
<line x1="1009" y1="87.4" x2="1009" y2="275.1" stroke="#262626" stroke-width="1.3" />
<line x1="1003.4" y1="274.6" x2="1196.4" y2="274.6" stroke="#262626" stroke-width="1.2" />
<line x1="1009.8" y1="274.7" x2="1195.9" y2="274.7" stroke="#44cfcf" stroke-width="1" />
<line x1="1006.1" y1="264.15" x2="1009" y2="264.15" stroke="#3a3a3a" stroke-width="1" />
<line x1="1006.1" y1="253.7" x2="1009" y2="253.7" stroke="#3a3a3a" stroke-width="1" />
<line x1="1006.1" y1="243.25" x2="1009" y2="243.25" stroke="#3a3a3a" stroke-width="1" />
<line x1="1003.4" y1="232.8" x2="1009" y2="232.8" stroke="#262626" stroke-width="1.1" />
<line x1="1006.1" y1="222.35" x2="1009" y2="222.35" stroke="#3a3a3a" stroke-width="1" />
<line x1="1006.1" y1="211.9" x2="1009" y2="211.9" stroke="#3a3a3a" stroke-width="1" />
<line x1="1006.1" y1="201.45" x2="1009" y2="201.45" stroke="#3a3a3a" stroke-width="1" />
<line x1="1003.4" y1="191" x2="1009" y2="191" stroke="#262626" stroke-width="1.1" />
<line x1="1006.1" y1="180.55" x2="1009" y2="180.55" stroke="#3a3a3a" stroke-width="1" />
<line x1="1006.1" y1="170.1" x2="1009" y2="170.1" stroke="#3a3a3a" stroke-width="1" />
<line x1="1006.1" y1="159.65" x2="1009" y2="159.65" stroke="#3a3a3a" stroke-width="1" />
<line x1="1003.4" y1="149.2" x2="1009" y2="149.2" stroke="#262626" stroke-width="1.1" />
<line x1="1006.1" y1="138.75" x2="1009" y2="138.75" stroke="#3a3a3a" stroke-width="1" />
<line x1="1006.1" y1="128.3" x2="1009" y2="128.3" stroke="#3a3a3a" stroke-width="1" />
<line x1="1006.1" y1="117.85" x2="1009" y2="117.85" stroke="#3a3a3a" stroke-width="1" />
<line x1="1003.4" y1="107.4" x2="1009" y2="107.4" stroke="#262626" stroke-width="1.1" />
<line x1="1006.1" y1="96.95" x2="1009" y2="96.95" stroke="#3a3a3a" stroke-width="1" />
<text transform="translate(994.99 274.9) scale(0.9200 1)" font-size="9.9" fill="#1c1c1c" stroke="#1c1c1c" stroke-width="0.18" >0</text>
<text transform="translate(989.93 236.3) scale(0.9200 1)" font-size="9.9" fill="#1c1c1c" stroke="#1c1c1c" stroke-width="0.18" >20</text>
<text transform="translate(989.93 194.5) scale(0.9200 1)" font-size="9.9" fill="#1c1c1c" stroke="#1c1c1c" stroke-width="0.18" >40</text>
<text transform="translate(989.93 152.7) scale(0.9200 1)" font-size="9.9" fill="#1c1c1c" stroke="#1c1c1c" stroke-width="0.18" >60</text>
<text transform="translate(989.93 110.9) scale(0.9200 1)" font-size="9.9" fill="#1c1c1c" stroke="#1c1c1c" stroke-width="0.18" >80</text>
<line x1="1017.09" y1="274.6" x2="1017.09" y2="277.5" stroke="#3a3a3a" stroke-width="1" />
<line x1="1026.08" y1="274.6" x2="1026.08" y2="277.5" stroke="#3a3a3a" stroke-width="1" />
<line x1="1035.06" y1="274.6" x2="1035.06" y2="277.5" stroke="#3a3a3a" stroke-width="1" />
<line x1="1044.05" y1="274.6" x2="1044.05" y2="280" stroke="#262626" stroke-width="1.1" />
<text transform="translate(1032.97 293.7) scale(0.9200 1)" font-size="9.9" fill="#1c1c1c" stroke="#1c1c1c" stroke-width="0.18" >20K</text>
<line x1="1053.04" y1="274.6" x2="1053.04" y2="277.5" stroke="#3a3a3a" stroke-width="1" />
<line x1="1062.03" y1="274.6" x2="1062.03" y2="277.5" stroke="#3a3a3a" stroke-width="1" />
<line x1="1071.01" y1="274.6" x2="1071.01" y2="277.5" stroke="#3a3a3a" stroke-width="1" />
<line x1="1080" y1="274.6" x2="1080" y2="280" stroke="#262626" stroke-width="1.1" />
<text transform="translate(1069.05 293.7) scale(0.9200 1)" font-size="9.9" fill="#1c1c1c" stroke="#1c1c1c" stroke-width="0.18" >40K</text>
<line x1="1088.99" y1="274.6" x2="1088.99" y2="277.5" stroke="#3a3a3a" stroke-width="1" />
<line x1="1097.97" y1="274.6" x2="1097.97" y2="277.5" stroke="#3a3a3a" stroke-width="1" />
<line x1="1106.96" y1="274.6" x2="1106.96" y2="277.5" stroke="#3a3a3a" stroke-width="1" />
<line x1="1115.95" y1="274.6" x2="1115.95" y2="280" stroke="#262626" stroke-width="1.1" />
<text transform="translate(1104.87 293.7) scale(0.9200 1)" font-size="9.9" fill="#1c1c1c" stroke="#1c1c1c" stroke-width="0.18" >60K</text>
<line x1="1124.94" y1="274.6" x2="1124.94" y2="277.5" stroke="#3a3a3a" stroke-width="1" />
<line x1="1133.92" y1="274.6" x2="1133.92" y2="277.5" stroke="#3a3a3a" stroke-width="1" />
<line x1="1142.91" y1="274.6" x2="1142.91" y2="277.5" stroke="#3a3a3a" stroke-width="1" />
<line x1="1151.9" y1="274.6" x2="1151.9" y2="280" stroke="#262626" stroke-width="1.1" />
<text transform="translate(1140.86 293.7) scale(0.9200 1)" font-size="9.9" fill="#1c1c1c" stroke="#1c1c1c" stroke-width="0.18" >80K</text>
<line x1="1160.89" y1="274.6" x2="1160.89" y2="277.5" stroke="#3a3a3a" stroke-width="1" />
<line x1="1169.88" y1="274.6" x2="1169.88" y2="277.5" stroke="#3a3a3a" stroke-width="1" />
<line x1="1178.86" y1="274.6" x2="1178.86" y2="277.5" stroke="#3a3a3a" stroke-width="1" />
<line x1="1187.85" y1="274.6" x2="1187.85" y2="280" stroke="#262626" stroke-width="1.1" />
<text transform="translate(1176.03 293.7) scale(0.9200 1)" font-size="9.9" fill="#1c1c1c" stroke="#1c1c1c" stroke-width="0.18" >100K</text>
<text transform="translate(1075.68 310.8) scale(0.9000 1)" font-size="9.7" fill="#1c1c1c" stroke="#1c1c1c" stroke-width="0.18" >FL2-A:: PE-A</text>
<text transform="translate(975.6 193.34) rotate(-90) scale(0.9200 1)" font-size="9.9" fill="#1c1c1c" stroke="#1c1c1c" stroke-width="0.18">Count</text>
</g>
<g>
<path d="M1302.5,275.2 1305.1,273.7 1307.6,271.2 1309.5,269.9 1312.0,269.5 1314.5,267.9 1316.4,265.1 1318.3,260.7 1320.0,255.6 1321.2,250.6 1322.5,247.4 1324.0,246.2 1325.6,245.5 1326.9,242.4 1328.0,236.1 1329.3,225.9 1330.6,214.6 1331.8,201.9 1333.1,189.3 1334.0,180.0 1335.0,165.0 1336.2,147.5 1337.5,130.0 1338.8,117.5 1340.0,108.8 1341.2,104.5 1342.5,108.8 1343.8,122.5 1345.0,135.0 1345.8,145.0 1347.0,160.0 1348.2,172.5 1349.3,183.0 1350.3,190.6 1351.2,198.2 1352.0,205.7 1353.1,213.3 1354.3,219.6 1355.6,218.4 1356.8,213.9 1358.4,209.5 1360.0,207.0 1361.6,205.7 1362.8,207.6 1363.8,211.4 1364.7,213.9 1365.9,212.1 1367.6,208.9 1369.2,207.0 1370.7,205.7 1372.6,206.0 1374.5,205.5 1375.8,205.7 1377.3,208.9 1378.9,214.6 1380.8,220.9 1382.4,227.2 1383.6,233.5 1385.3,238.6 1386.9,243.6 1388.4,243.0 1389.0,241.9 1390.1,239.9 1391.6,238.4 1393.1,239.6 1395.1,240.9 1396.6,242.9 1398.1,246.9 1399.6,250.0 1401.2,252.3 1402.7,252.5 1404.2,251.7 1405.7,253.3 1407.4,256.0 1409.2,255.3 1411.1,254.3 1412.8,255.7 1414.8,257.5 1416.8,259.4 1418.8,261.4 1420.9,263.1 1422.9,264.8 1424.4,265.6 1425.9,264.6 1427.4,264.1 1428.9,265.4 1431.0,267.6 1433.0,269.7 1435.5,271.2 1438.5,272.2 1441.6,272.9 1445.6,273.0 1449.6,272.9 1452.2,274.0 1454.7,274.9 1457.7,275.5 1463.8,275.5 1469.8,275.4 1475.9,275.4 1480.5,275.5 1482.0,276.2 1486.0,276.4 1490.1,276.2 1492.1,275.2 1494.1,273.7 1495.3,272.7" fill="none" stroke="#0c0c0c" stroke-width="1.25" stroke-linejoin="round"/>
<path d="M1315.8,277.4 1316.6,276.9 1317.3,276.3 1318.1,275.5 1318.8,274.5 1319.6,273.2 1320.3,271.7 1321.0,269.9 1321.8,267.8 1322.5,265.2 1323.3,262.2 1324.0,258.8 1324.8,254.8 1325.5,250.3 1326.3,245.3 1327.0,239.7 1327.7,233.5 1328.5,226.8 1329.2,219.6 1330.0,212.0 1330.7,203.9 1331.5,195.6 1332.2,187.1 1333.0,178.6 1333.7,170.2 1334.4,162.0 1335.2,154.2 1335.9,146.9 1336.7,140.4 1337.4,134.7 1338.2,130.0 1338.9,126.4 1339.7,123.9 1340.4,122.7 1341.1,122.7 1341.9,124.1 1342.6,126.7 1343.4,130.5 1344.1,135.4 1344.9,140.6 1345.6,146.3 1346.4,152.6 1347.1,159.3 1347.8,166.3 1348.6,173.5 1349.3,180.6 1350.1,187.5 1350.8,194.1 1351.6,200.3 1352.3,206.0 1353.0,211.0 1353.8,215.4 1354.5,219.1 1355.3,222.1 1356.0,224.5 1356.8,226.1 1357.5,227.1 1358.3,227.6 1359.0,227.4 1359.7,226.9 1360.5,225.9 1361.2,224.6 1362.0,222.7 1362.7,219.7 1363.5,216.8 1364.2,214.0 1365.0,211.4 1365.7,209.0 1366.4,206.8 1367.2,204.9 1367.9,203.2 1368.7,201.7 1369.4,200.5 1370.2,199.7 1370.9,199.1 1371.7,198.8 1372.4,198.9 1373.1,199.2 1373.9,199.8 1374.6,200.6 1375.4,201.8 1376.1,203.2 1376.9,204.8 1377.6,206.6 1378.4,208.6 1379.1,210.9 1379.8,213.2 1380.6,215.7 1381.3,218.4 1382.1,221.1 1382.8,223.9 1383.6,226.7 1384.3,229.6 1385.1,232.5 1385.8,235.3 1386.5,238.1 1387.3,240.9 1388.0,243.6 1388.8,246.2 1389.5,248.7 1390.3,251.1 1391.0,253.4 1391.7,255.6 1392.5,257.7 1393.2,259.7 1394.0,261.5 1394.7,263.2 1395.5,264.8 1396.2,266.2 1397.0,267.5 1397.7,268.8 1398.4,269.9 1399.2,270.9 1399.9,271.8 1400.7,272.6 1401.4,273.4 1402.2,274.0 1402.9,274.6 1403.7,275.1 1404.4,275.5 1405.1,275.9 1405.9,276.3 1406.6,276.6 1407.4,276.8 1408.1,277.1 1408.9,277.3 1409.6,277.4" fill="none" stroke="#f410e4" stroke-width="1.85" stroke-linejoin="round"/>
<path d="M1350.1,277.4 1350.8,277.3 1351.6,276.0 1352.3,274.2 1353.0,271.8 1353.8,268.9 1354.5,265.3 1355.3,261.2 1356.0,256.7 1356.8,252.2 1357.5,248.0 1358.3,244.4 1359.0,241.8 1359.7,240.4 1360.5,240.3 1361.2,241.6 1362.0,244.1 1362.7,247.6 1363.5,251.6 1364.2,256.0 1365.0,260.3 1365.7,264.3 1366.4,267.9 1367.2,270.8 1367.9,273.2 1368.7,274.9 1369.4,276.2 1370.2,277.1 1370.9,277.4 L1370.9,277.4 L1350.1,277.4Z" fill="#ebb21c" fill-opacity="0.5" stroke="#96a428" stroke-width="0.8" stroke-opacity="0.8"/>
<path d="M1344.1,277.4 1344.9,276.6 1345.6,275.5 1346.4,274.3 1347.1,272.9 1347.8,271.4 1348.6,269.8 1349.3,268.1 1350.1,266.2 1350.8,264.2 1351.6,262.0 1352.3,259.7 1353.0,257.3 1353.8,254.8 1354.5,252.1 1355.3,249.4 1356.0,246.5 1356.8,243.6 1357.5,240.6 1358.3,237.5 1359.0,234.4 1359.7,231.3 1360.5,228.2 1361.2,225.1 1362.0,222.1 1362.7,219.2 1363.5,216.4 1364.2,213.7 1365.0,211.2 1365.7,208.8 1366.4,206.7 1367.2,204.7 1367.9,203.1 1368.7,201.6 1369.4,200.5 1370.2,199.6 1370.9,199.1 1371.7,198.8 1372.4,198.9 1373.1,199.2 1373.9,199.8 1374.6,200.6 1375.4,201.8 1376.1,203.2 1376.9,204.8 1377.6,206.6 1378.4,208.6 1379.1,210.9 1379.8,213.2 1380.6,215.7 1381.3,218.4 1382.1,221.1 1382.8,223.9 1383.6,226.7 1384.3,229.6 1385.1,232.5 1385.8,235.3 1386.5,238.1 1387.3,240.9 1388.0,243.6 1388.8,246.2 1389.5,248.7 1390.3,251.1 1391.0,253.4 1391.7,255.6 1392.5,257.7 1393.2,259.7 1394.0,261.5 1394.7,263.2 1395.5,264.8 1396.2,266.2 1397.0,267.5 1397.7,268.8 1398.4,269.9 1399.2,270.9 1399.9,271.8 1400.7,272.6 1401.4,273.4 1402.2,274.0 1402.9,274.6 1403.7,275.1 1404.4,275.5 1405.1,275.9 1405.9,276.3 1406.6,276.6 1407.4,276.8 1408.1,277.1 1408.9,277.3 1409.6,277.4 L1409.6,277.4 L1344.1,277.4Z" fill="#12f6ea" fill-opacity="0.5"/>
<path d="M1315.8,277.4 1316.6,276.9 1317.3,276.3 1318.1,275.5 1318.8,274.5 1319.6,273.2 1320.3,271.7 1321.0,269.9 1321.8,267.8 1322.5,265.2 1323.3,262.2 1324.0,258.8 1324.8,254.8 1325.5,250.3 1326.3,245.3 1327.0,239.7 1327.7,233.5 1328.5,226.8 1329.2,219.6 1330.0,212.0 1330.7,203.9 1331.5,195.6 1332.2,187.1 1333.0,178.6 1333.7,170.2 1334.4,162.0 1335.2,154.2 1335.9,146.9 1336.7,140.4 1337.4,134.7 1338.2,130.0 1338.9,126.4 1339.7,123.9 1340.4,122.7 1341.1,122.7 1341.9,124.1 1342.6,126.7 1343.4,130.5 1344.1,135.4 1344.9,141.3 1345.6,148.0 1346.4,155.5 1347.1,163.6 1347.8,172.0 1348.6,180.7 1349.3,189.5 1350.1,198.2 1350.8,206.8 1351.6,215.0 1352.3,222.9 1353.0,230.3 1353.8,237.2 1354.5,243.5 1355.3,249.2 1356.0,254.4 1356.8,259.0 1357.5,263.0 1358.3,266.5 1359.0,269.6 1359.7,272.2 1360.5,274.4 1361.2,276.2 1362.0,277.4 L1362.0,277.4 L1315.8,277.4Z" fill="#2fb012" fill-opacity="0.5"/>
<path d="M1318.8,275.7 1319.6,274.8 1320.3,273.8 1321.0,272.4 1321.8,270.8 1322.5,268.8 1323.3,266.4 1324.0,263.5 1324.8,260.1 1325.5,256.2 1326.3,251.7 1327.0,246.5 1327.7,240.8 1328.5,234.3 1329.2,227.3 1330.0,219.7 1330.7,211.6 1331.5,203.0 1332.2,194.2 1333.0,185.2 1333.7,176.1 1334.4,167.3 1335.2,158.7 1335.9,150.7 1336.7,143.5 1337.4,137.1 1338.2,131.8 1338.9,127.7 1339.7,124.9 1340.4,123.5 1341.1,123.6 1341.9,125.1 1342.6,128.0 1343.4,132.2 1344.1,137.7 1344.9,144.2 1345.6,151.7 1346.4,159.9 1347.1,168.6 1347.8,177.7 1348.6,186.9" fill="none" stroke="#0b3a0b" stroke-width="1.1" stroke-opacity="0.8" stroke-dasharray="3 1.6"/>
<path d="M1347.1,163.6 1347.8,172.0 1348.6,180.7 1349.3,189.5 1350.1,198.2 1350.8,206.8 1351.6,215.0 1352.3,222.9 1353.0,230.3 1353.8,237.2 1354.5,243.5 1355.3,249.2 1356.0,254.4 1356.8,259.0 1357.5,263.0 1358.3,266.5 1359.0,269.6 1359.7,272.2 1360.5,274.4 1361.2,276.2 1362.0,277.4" fill="none" stroke="#36a82a" stroke-width="0.9" stroke-opacity="0.8"/>
<path d="M1344.1,277.4 1344.9,276.6 1345.6,275.5 1346.4,274.3 1347.1,272.9 1347.8,271.4 1348.6,269.8 1349.3,268.1 1350.1,266.2 1350.8,264.2 1351.6,262.0 1352.3,259.7 1353.0,257.3 1353.8,254.8 1354.5,252.1 1355.3,249.4 1356.0,246.5 1356.8,243.6 1357.5,240.6 1358.3,237.5 1359.0,234.4 1359.7,231.3 1360.5,228.2 1361.2,225.1 1362.0,222.1 1362.7,219.2 1363.5,216.4 1364.2,213.7 1365.0,211.2 1365.7,208.8 1366.4,206.7 1367.2,204.7 1367.9,203.1 1368.7,201.6 1369.4,200.5" fill="none" stroke="#22c4b0" stroke-width="0.7" stroke-opacity="0.6"/>
<path d="M1373.1,199.2 1373.9,199.8 1374.6,200.6 1375.4,201.8 1376.1,203.2 1376.9,204.8 1377.6,206.6 1378.4,208.6 1379.1,210.9 1379.8,213.2 1380.6,215.7 1381.3,218.4 1382.1,221.1 1382.8,223.9 1383.6,226.7 1384.3,229.6 1385.1,232.5 1385.8,235.3 1386.5,238.1 1387.3,240.9 1388.0,243.6 1388.8,246.2 1389.5,248.7 1390.3,251.1 1391.0,253.4 1391.7,255.6 1392.5,257.7 1393.2,259.7 1394.0,261.5 1394.7,263.2 1395.5,264.8 1396.2,266.2 1397.0,267.5 1397.7,268.8 1398.4,269.9 1399.2,270.9 1399.9,271.8 1400.7,272.6 1401.4,273.4 1402.2,274.0 1402.9,274.6 1403.7,275.1 1404.4,275.5 1405.1,275.9 1405.9,276.3 1406.6,276.6 1407.4,276.8 1408.1,277.1 1408.9,277.3 1409.6,277.4" fill="none" stroke="#5590ff" stroke-width="1.7" stroke-opacity="0.95"/>
<line x1="1301.7" y1="83.6" x2="1496.2" y2="83.6" stroke="#3c3c3c" stroke-width="1.1" />
<line x1="1495.6" y1="83.6" x2="1495.6" y2="277.4" stroke="#262626" stroke-width="1.2" />
<line x1="1302.2" y1="83.6" x2="1302.2" y2="277.9" stroke="#262626" stroke-width="1.3" />
<line x1="1296.6" y1="277.4" x2="1496.1" y2="277.4" stroke="#262626" stroke-width="1.2" />
<line x1="1303" y1="277.5" x2="1495.6" y2="277.5" stroke="#44cfcf" stroke-width="1" />
<line x1="1299.3" y1="267.55" x2="1302.2" y2="267.55" stroke="#3a3a3a" stroke-width="1" />
<line x1="1299.3" y1="257.7" x2="1302.2" y2="257.7" stroke="#3a3a3a" stroke-width="1" />
<line x1="1299.3" y1="247.85" x2="1302.2" y2="247.85" stroke="#3a3a3a" stroke-width="1" />
<line x1="1296.6" y1="238" x2="1302.2" y2="238" stroke="#262626" stroke-width="1.1" />
<line x1="1299.3" y1="228.15" x2="1302.2" y2="228.15" stroke="#3a3a3a" stroke-width="1" />
<line x1="1299.3" y1="218.3" x2="1302.2" y2="218.3" stroke="#3a3a3a" stroke-width="1" />
<line x1="1299.3" y1="208.45" x2="1302.2" y2="208.45" stroke="#3a3a3a" stroke-width="1" />
<line x1="1296.6" y1="198.6" x2="1302.2" y2="198.6" stroke="#262626" stroke-width="1.1" />
<line x1="1299.3" y1="188.75" x2="1302.2" y2="188.75" stroke="#3a3a3a" stroke-width="1" />
<line x1="1299.3" y1="178.9" x2="1302.2" y2="178.9" stroke="#3a3a3a" stroke-width="1" />
<line x1="1299.3" y1="169.05" x2="1302.2" y2="169.05" stroke="#3a3a3a" stroke-width="1" />
<line x1="1296.6" y1="159.2" x2="1302.2" y2="159.2" stroke="#262626" stroke-width="1.1" />
<line x1="1299.3" y1="149.35" x2="1302.2" y2="149.35" stroke="#3a3a3a" stroke-width="1" />
<line x1="1299.3" y1="139.5" x2="1302.2" y2="139.5" stroke="#3a3a3a" stroke-width="1" />
<line x1="1299.3" y1="129.65" x2="1302.2" y2="129.65" stroke="#3a3a3a" stroke-width="1" />
<line x1="1296.6" y1="119.8" x2="1302.2" y2="119.8" stroke="#262626" stroke-width="1.1" />
<line x1="1299.3" y1="109.95" x2="1302.2" y2="109.95" stroke="#3a3a3a" stroke-width="1" />
<line x1="1299.3" y1="100.1" x2="1302.2" y2="100.1" stroke="#3a3a3a" stroke-width="1" />
<line x1="1299.3" y1="90.25" x2="1302.2" y2="90.25" stroke="#3a3a3a" stroke-width="1" />
<text transform="translate(1288.19 277.7) scale(0.9200 1)" font-size="9.9" fill="#1c1c1c" stroke="#1c1c1c" stroke-width="0.18" >0</text>
<text transform="translate(1283.13 241.5) scale(0.9200 1)" font-size="9.9" fill="#1c1c1c" stroke="#1c1c1c" stroke-width="0.18" >20</text>
<text transform="translate(1283.13 202.1) scale(0.9200 1)" font-size="9.9" fill="#1c1c1c" stroke="#1c1c1c" stroke-width="0.18" >40</text>
<text transform="translate(1283.13 162.7) scale(0.9200 1)" font-size="9.9" fill="#1c1c1c" stroke="#1c1c1c" stroke-width="0.18" >60</text>
<text transform="translate(1283.13 123.3) scale(0.9200 1)" font-size="9.9" fill="#1c1c1c" stroke="#1c1c1c" stroke-width="0.18" >80</text>
<line x1="1311" y1="277.4" x2="1311" y2="280.3" stroke="#3a3a3a" stroke-width="1" />
<line x1="1320.31" y1="277.4" x2="1320.31" y2="280.3" stroke="#3a3a3a" stroke-width="1" />
<line x1="1329.61" y1="277.4" x2="1329.61" y2="280.3" stroke="#3a3a3a" stroke-width="1" />
<line x1="1338.91" y1="277.4" x2="1338.91" y2="282.8" stroke="#262626" stroke-width="1.1" />
<text transform="translate(1327.83 296.5) scale(0.9200 1)" font-size="9.9" fill="#1c1c1c" stroke="#1c1c1c" stroke-width="0.18" >20K</text>
<line x1="1348.21" y1="277.4" x2="1348.21" y2="280.3" stroke="#3a3a3a" stroke-width="1" />
<line x1="1357.52" y1="277.4" x2="1357.52" y2="280.3" stroke="#3a3a3a" stroke-width="1" />
<line x1="1366.82" y1="277.4" x2="1366.82" y2="280.3" stroke="#3a3a3a" stroke-width="1" />
<line x1="1376.12" y1="277.4" x2="1376.12" y2="282.8" stroke="#262626" stroke-width="1.1" />
<text transform="translate(1365.17 296.5) scale(0.9200 1)" font-size="9.9" fill="#1c1c1c" stroke="#1c1c1c" stroke-width="0.18" >40K</text>
<line x1="1385.42" y1="277.4" x2="1385.42" y2="280.3" stroke="#3a3a3a" stroke-width="1" />
<line x1="1394.73" y1="277.4" x2="1394.73" y2="280.3" stroke="#3a3a3a" stroke-width="1" />
<line x1="1404.03" y1="277.4" x2="1404.03" y2="280.3" stroke="#3a3a3a" stroke-width="1" />
<line x1="1413.33" y1="277.4" x2="1413.33" y2="282.8" stroke="#262626" stroke-width="1.1" />
<text transform="translate(1402.25 296.5) scale(0.9200 1)" font-size="9.9" fill="#1c1c1c" stroke="#1c1c1c" stroke-width="0.18" >60K</text>
<line x1="1422.63" y1="277.4" x2="1422.63" y2="280.3" stroke="#3a3a3a" stroke-width="1" />
<line x1="1431.93" y1="277.4" x2="1431.93" y2="280.3" stroke="#3a3a3a" stroke-width="1" />
<line x1="1441.24" y1="277.4" x2="1441.24" y2="280.3" stroke="#3a3a3a" stroke-width="1" />
<line x1="1450.54" y1="277.4" x2="1450.54" y2="282.8" stroke="#262626" stroke-width="1.1" />
<text transform="translate(1439.5 296.5) scale(0.9200 1)" font-size="9.9" fill="#1c1c1c" stroke="#1c1c1c" stroke-width="0.18" >80K</text>
<line x1="1459.84" y1="277.4" x2="1459.84" y2="280.3" stroke="#3a3a3a" stroke-width="1" />
<line x1="1469.14" y1="277.4" x2="1469.14" y2="280.3" stroke="#3a3a3a" stroke-width="1" />
<line x1="1478.45" y1="277.4" x2="1478.45" y2="280.3" stroke="#3a3a3a" stroke-width="1" />
<line x1="1487.75" y1="277.4" x2="1487.75" y2="282.8" stroke="#262626" stroke-width="1.1" />
<text transform="translate(1475.93 296.5) scale(0.9200 1)" font-size="9.9" fill="#1c1c1c" stroke="#1c1c1c" stroke-width="0.18" >100K</text>
<text transform="translate(1372.13 313.6) scale(0.9000 1)" font-size="9.7" fill="#1c1c1c" stroke="#1c1c1c" stroke-width="0.18" >FL2-A:: PE-A</text>
<text transform="translate(1268.8 192.84) rotate(-90) scale(0.9200 1)" font-size="9.9" fill="#1c1c1c" stroke="#1c1c1c" stroke-width="0.18">Count</text>
</g>
<g>
<path d="M713.5,654.8 715.2,650.4 717.1,647.9 718.9,647.3 720.8,646.9 722.7,644.7 724.6,640.3 726.5,635.9 728.4,632.1 730.3,628.9 732.2,626.4 734.1,623.3 736.0,620.1 737.9,616.3 739.2,610.0 740.4,599.9 741.7,587.3 742.9,574.6 744.0,562.0 745.4,542.7 747.1,523.3 749.1,506.3 750.8,494.2 751.7,491.3 753.0,496.7 754.4,511.2 755.9,528.2 757.6,545.1 758.8,558.4 760.3,562.0 761.3,569.6 762.5,577.2 764.0,578.2 765.1,582.2 766.1,589.8 767.3,595.1 768.8,595.9 770.7,594.8 772.4,592.3 773.6,587.3 774.9,584.1 776.4,583.5 777.9,585.0 779.6,586.6 781.2,587.3 782.5,589.2 784.0,593.6 785.9,598.6 787.8,603.1 789.7,606.2 790.0,606.2 794.0,609.8 796.1,615.3 798.1,622.4 800.1,627.5 802.1,630.5 804.1,631.5 806.2,631.3 807.7,631.5 809.2,633.5 811.2,636.5 813.2,639.1 815.3,640.6 816.8,639.6 818.3,637.6 820.3,637.4 821.8,639.1 823.3,642.1 825.4,644.6 827.4,646.1 829.9,647.2 832.4,647.2 834.4,647.9 836.5,648.9 838.5,650.7 840.5,652.0 842.5,652.2 845.1,652.0 846.6,651.5 848.6,652.2 850.6,653.0 853.6,653.5 856.7,654.2 859.7,654.7 863.7,654.7 867.8,654.7 870.8,655.2 874.8,655.5 878.9,655.9 882.9,656.2 889.0,656.4 895.1,656.4 898.1,655.9 900.6,654.7 903.6,652.7" fill="none" stroke="#0c0c0c" stroke-width="1.25" stroke-linejoin="round"/>
<path d="M729.0,656.8 729.7,656.7 730.4,656.1 731.2,655.3 731.9,654.2 732.6,652.9 733.4,651.3 734.1,649.4 734.8,647.0 735.6,644.2 736.3,640.8 737.0,636.9 737.8,632.3 738.5,627.1 739.2,621.2 740.0,614.6 740.7,607.3 741.4,599.4 742.2,590.9 742.9,582.0 743.6,572.6 744.4,563.1 745.1,553.5 745.8,544.0 746.6,534.9 747.3,526.3 748.0,518.4 748.8,511.5 749.5,505.7 750.2,501.2 751.0,498.1 751.7,496.5 752.4,496.4 753.2,497.8 753.9,500.7 754.6,504.9 755.4,510.4 756.1,516.8 756.8,523.7 757.6,531.2 758.3,539.1 759.0,547.1 759.8,555.1 760.5,562.9 761.2,570.3 762.0,577.1 762.7,583.3 763.4,588.8 764.2,593.5 764.9,597.4 765.6,600.5 766.4,603.0 767.1,604.7 767.8,605.9 768.6,606.4 769.3,606.6 770.0,606.3 770.8,605.7 771.5,604.8 772.2,603.6 773.0,601.7 773.7,599.6 774.4,597.5 775.2,595.5 775.9,593.6 776.6,591.9 777.4,590.2 778.1,588.7 778.8,587.4 779.6,586.2 780.3,585.3 781.0,584.5 781.8,584.1 782.5,583.9 783.2,583.9 784.0,584.3 784.7,584.9 785.4,585.8 786.1,586.9 786.9,588.4 787.6,590.1 788.3,592.0 789.1,594.2 789.8,596.5 790.5,599.1 791.3,601.8 792.0,604.6 792.7,607.5 793.5,610.4 794.2,613.4 794.9,616.3 795.7,619.3 796.4,622.2 797.1,625.0 797.9,627.7 798.6,630.3 799.3,632.9 800.1,635.2 800.8,637.5 801.5,639.6 802.3,641.5 803.0,643.4 803.7,645.0 804.5,646.5 805.2,647.9 805.9,649.2 806.7,650.3 807.4,651.3 808.1,652.2 808.9,653.0 809.6,653.7 810.3,654.3 811.1,654.9 811.8,655.3 812.5,655.7 813.3,656.1 814.0,656.4 814.7,656.6 815.5,656.9 816.2,657.0" fill="none" stroke="#f410e4" stroke-width="1.85" stroke-linejoin="round"/>
<path d="M723.8,657.0 724.6,657.0 725.3,657.0 726.0,656.9 726.8,656.9 727.5,656.9 728.2,656.8 729.0,656.8 729.7,656.8 730.4,656.7 731.2,656.7 731.9,656.6 732.6,656.6 733.4,656.5 734.1,656.4 734.8,656.4 735.6,656.3 736.3,656.2 737.0,656.1 737.8,656.0 738.5,655.9 739.2,655.8 740.0,655.7 740.7,655.6 741.4,655.5 742.2,655.4 742.9,655.2 743.6,655.1 744.4,654.9 745.1,654.8 745.8,654.6 746.6,654.5 747.3,654.3 748.0,654.1 748.8,654.0 749.5,653.8 750.2,653.6 751.0,653.4 751.7,653.3 752.4,653.1 753.2,652.9 753.9,652.7 754.6,652.5 755.4,652.4 756.1,652.2 756.8,652.0 757.6,651.9 758.3,651.7 759.0,651.5 759.8,651.4 760.5,651.3 761.2,651.1 762.0,651.0 762.7,650.9 763.4,650.8 764.2,650.7 764.9,650.6 765.6,650.6 766.4,650.5 767.1,650.5 767.8,650.4 768.6,650.4 769.3,650.4 770.0,650.4 770.8,650.5 771.5,650.5 772.2,650.6 773.0,650.6 773.7,650.7 774.4,650.8 775.2,650.9 775.9,651.0 776.6,651.1 777.4,651.2 778.1,651.4 778.8,651.5 779.6,651.7 780.3,651.8 781.0,652.0 781.8,652.2 782.5,652.3 783.2,652.5 784.0,652.7 784.7,652.9 785.4,653.0 786.1,653.2 786.9,653.4 787.6,653.6 788.3,653.7 789.1,653.9 789.8,654.1 790.5,654.3 791.3,654.4 792.0,654.6 792.7,654.7 793.5,654.9 794.2,655.0 794.9,655.2 795.7,655.3 796.4,655.4 797.1,655.5 797.9,655.7 798.6,655.8 799.3,655.9 800.1,656.0 800.8,656.1 801.5,656.1 802.3,656.2 803.0,656.3 803.7,656.4 804.5,656.4 805.2,656.5 805.9,656.6 806.7,656.6 807.4,656.7 808.1,656.7 808.9,656.7 809.6,656.8 810.3,656.8 811.1,656.9 811.8,656.9 812.5,656.9 813.3,656.9 814.0,656.9 814.7,657.0 815.5,657.0 816.2,657.0 816.9,657.0 L816.9,657.0 L723.8,657.0Z" fill="#ebb21c" fill-opacity="0.5" stroke="#96a428" stroke-width="0.8" stroke-opacity="0.8"/>
<path d="M755.4,657.0 756.1,656.9 756.8,656.3 757.6,655.7 758.3,655.0 759.0,654.2 759.8,653.3 760.5,652.3 761.2,651.1 762.0,649.8 762.7,648.4 763.4,646.9 764.2,645.2 764.9,643.4 765.6,641.4 766.4,639.3 767.1,637.1 767.8,634.7 768.6,632.2 769.3,629.6 770.0,626.8 770.8,624.0 771.5,621.2 772.2,618.3 773.0,615.4 773.7,612.5 774.4,609.6 775.2,606.8 775.9,604.1 776.6,601.6 777.4,599.2 778.1,596.9 778.8,594.9 779.6,593.2 780.3,591.7 781.0,590.5 781.8,589.6 782.5,589.0 783.2,588.7 784.0,588.7 784.7,589.1 785.4,589.7 786.1,590.7 786.9,592.0 787.6,593.5 788.3,595.3 789.1,597.3 789.8,599.5 790.5,601.8 791.3,604.4 792.0,607.0 792.7,609.7 793.5,612.5 794.2,615.3 794.9,618.2 795.7,621.0 796.4,623.7 797.1,626.4 797.9,629.1 798.6,631.6 799.3,634.0 800.1,636.3 800.8,638.4 801.5,640.4 802.3,642.3 803.0,644.0 803.7,645.6 804.5,647.1 805.2,648.4 805.9,649.6 806.7,650.7 807.4,651.7 808.1,652.5 808.9,653.3 809.6,653.9 810.3,654.5 811.1,655.0 811.8,655.5 812.5,655.8 813.3,656.2 814.0,656.4 814.7,656.7 815.5,656.9 816.2,657.0 L816.2,657.0 L755.4,657.0Z" fill="#12f6ea" fill-opacity="0.5"/>
<path d="M729.0,657.0 729.7,657.0 730.4,656.4 731.2,655.6 731.9,654.6 732.6,653.4 733.4,651.8 734.1,649.9 734.8,647.6 735.6,644.9 736.3,641.6 737.0,637.8 737.8,633.3 738.5,628.2 739.2,622.4 740.0,615.9 740.7,608.7 741.4,600.9 742.2,592.6 742.9,583.7 743.6,574.5 744.4,565.1 745.1,555.7 745.8,546.4 746.6,537.4 747.3,529.0 748.0,521.3 748.8,514.5 749.5,508.9 750.2,504.6 751.0,501.7 751.7,500.2 752.4,500.3 753.2,502.0 753.9,505.1 754.6,509.6 755.4,515.4 756.1,522.4 756.8,530.3 757.6,538.9 758.3,548.0 759.0,557.5 759.8,567.0 760.5,576.6 761.2,585.8 762.0,594.7 762.7,603.1 763.4,610.9 764.2,618.1 764.9,624.6 765.6,630.4 766.4,635.5 767.1,640.0 767.8,643.8 768.6,647.0 769.3,649.8 770.0,652.1 770.8,653.9 771.5,655.5 772.2,656.7 773.0,657.0 L773.0,657.0 L729.0,657.0Z" fill="#2fb012" fill-opacity="0.5"/>
<path d="M732.6,655.0 733.4,653.9 734.1,652.6 734.8,650.9 735.6,648.8 736.3,646.2 737.0,643.1 737.8,639.4 738.5,634.9 739.2,629.7 740.0,623.8 740.7,617.1 741.4,609.5 742.2,601.3 742.9,592.4 743.6,582.9 744.4,573.1 745.1,563.0 745.8,552.9 746.6,543.0 747.3,533.7 748.0,525.1 748.8,517.4 749.5,511.1 750.2,506.1 751.0,502.7 751.7,501.1 752.4,501.2 753.2,503.0 753.9,506.6 754.6,511.8 755.4,518.4 756.1,526.2 756.8,535.0 757.6,544.5 758.3,554.4 759.0,564.6" fill="none" stroke="#0b3a0b" stroke-width="1.1" stroke-opacity="0.8" stroke-dasharray="3 1.6"/>
<path d="M757.6,538.9 758.3,548.0 759.0,557.5 759.8,567.0 760.5,576.6 761.2,585.8 762.0,594.7 762.7,603.1 763.4,610.9 764.2,618.1 764.9,624.6 765.6,630.4 766.4,635.5 767.1,640.0 767.8,643.8 768.6,647.0 769.3,649.8 770.0,652.1 770.8,653.9 771.5,655.5 772.2,656.7 773.0,657.0" fill="none" stroke="#36a82a" stroke-width="0.9" stroke-opacity="0.8"/>
<path d="M755.4,657.0 756.1,656.9 756.8,656.3 757.6,655.7 758.3,655.0 759.0,654.2 759.8,653.3 760.5,652.3 761.2,651.1 762.0,649.8 762.7,648.4 763.4,646.9 764.2,645.2 764.9,643.4 765.6,641.4 766.4,639.3 767.1,637.1 767.8,634.7 768.6,632.2 769.3,629.6 770.0,626.8 770.8,624.0 771.5,621.2 772.2,618.3 773.0,615.4 773.7,612.5 774.4,609.6 775.2,606.8 775.9,604.1 776.6,601.6 777.4,599.2 778.1,596.9 778.8,594.9 779.6,593.2 780.3,591.7 781.0,590.5" fill="none" stroke="#22c4b0" stroke-width="0.7" stroke-opacity="0.6"/>
<path d="M784.7,589.1 785.4,589.7 786.1,590.7 786.9,592.0 787.6,593.5 788.3,595.3 789.1,597.3 789.8,599.5 790.5,601.8 791.3,604.4 792.0,607.0 792.7,609.7 793.5,612.5 794.2,615.3 794.9,618.2 795.7,621.0 796.4,623.7 797.1,626.4 797.9,629.1 798.6,631.6 799.3,634.0 800.1,636.3 800.8,638.4 801.5,640.4 802.3,642.3 803.0,644.0 803.7,645.6 804.5,647.1 805.2,648.4 805.9,649.6 806.7,650.7 807.4,651.7 808.1,652.5 808.9,653.3 809.6,653.9 810.3,654.5 811.1,655.0 811.8,655.5 812.5,655.8 813.3,656.2 814.0,656.4 814.7,656.7 815.5,656.9 816.2,657.0" fill="none" stroke="#5590ff" stroke-width="1.7" stroke-opacity="0.95"/>
<line x1="713.8" y1="467.6" x2="904.8" y2="467.6" stroke="#3c3c3c" stroke-width="1.1" />
<line x1="904.2" y1="467.6" x2="904.2" y2="657" stroke="#262626" stroke-width="1.2" />
<line x1="714.3" y1="467.6" x2="714.3" y2="657.5" stroke="#262626" stroke-width="1.3" />
<line x1="708.7" y1="657" x2="904.7" y2="657" stroke="#262626" stroke-width="1.2" />
<line x1="715.1" y1="657.1" x2="904.2" y2="657.1" stroke="#44cfcf" stroke-width="1" />
<line x1="711.4" y1="648.12" x2="714.3" y2="648.12" stroke="#3a3a3a" stroke-width="1" />
<line x1="711.4" y1="639.25" x2="714.3" y2="639.25" stroke="#3a3a3a" stroke-width="1" />
<line x1="711.4" y1="630.38" x2="714.3" y2="630.38" stroke="#3a3a3a" stroke-width="1" />
<line x1="708.7" y1="621.5" x2="714.3" y2="621.5" stroke="#262626" stroke-width="1.1" />
<line x1="711.4" y1="612.62" x2="714.3" y2="612.62" stroke="#3a3a3a" stroke-width="1" />
<line x1="711.4" y1="603.75" x2="714.3" y2="603.75" stroke="#3a3a3a" stroke-width="1" />
<line x1="711.4" y1="594.88" x2="714.3" y2="594.88" stroke="#3a3a3a" stroke-width="1" />
<line x1="708.7" y1="586" x2="714.3" y2="586" stroke="#262626" stroke-width="1.1" />
<line x1="711.4" y1="577.12" x2="714.3" y2="577.12" stroke="#3a3a3a" stroke-width="1" />
<line x1="711.4" y1="568.25" x2="714.3" y2="568.25" stroke="#3a3a3a" stroke-width="1" />
<line x1="711.4" y1="559.38" x2="714.3" y2="559.38" stroke="#3a3a3a" stroke-width="1" />
<line x1="708.7" y1="550.5" x2="714.3" y2="550.5" stroke="#262626" stroke-width="1.1" />
<line x1="711.4" y1="541.62" x2="714.3" y2="541.62" stroke="#3a3a3a" stroke-width="1" />
<line x1="711.4" y1="532.75" x2="714.3" y2="532.75" stroke="#3a3a3a" stroke-width="1" />
<line x1="711.4" y1="523.88" x2="714.3" y2="523.88" stroke="#3a3a3a" stroke-width="1" />
<line x1="708.7" y1="515" x2="714.3" y2="515" stroke="#262626" stroke-width="1.1" />
<line x1="711.4" y1="506.12" x2="714.3" y2="506.12" stroke="#3a3a3a" stroke-width="1" />
<line x1="711.4" y1="497.25" x2="714.3" y2="497.25" stroke="#3a3a3a" stroke-width="1" />
<line x1="711.4" y1="488.38" x2="714.3" y2="488.38" stroke="#3a3a3a" stroke-width="1" />
<line x1="708.7" y1="479.5" x2="714.3" y2="479.5" stroke="#262626" stroke-width="1.1" />
<line x1="711.4" y1="470.62" x2="714.3" y2="470.62" stroke="#3a3a3a" stroke-width="1" />
<text transform="translate(700.29 657.3) scale(0.9200 1)" font-size="9.9" fill="#1c1c1c" stroke="#1c1c1c" stroke-width="0.18" >0</text>
<text transform="translate(695.23 625) scale(0.9200 1)" font-size="9.9" fill="#1c1c1c" stroke="#1c1c1c" stroke-width="0.18" >20</text>
<text transform="translate(695.23 589.5) scale(0.9200 1)" font-size="9.9" fill="#1c1c1c" stroke="#1c1c1c" stroke-width="0.18" >40</text>
<text transform="translate(695.23 554) scale(0.9200 1)" font-size="9.9" fill="#1c1c1c" stroke="#1c1c1c" stroke-width="0.18" >60</text>
<text transform="translate(695.23 518.5) scale(0.9200 1)" font-size="9.9" fill="#1c1c1c" stroke="#1c1c1c" stroke-width="0.18" >80</text>
<text transform="translate(690.15 483) scale(0.9200 1)" font-size="9.9" fill="#1c1c1c" stroke="#1c1c1c" stroke-width="0.18" >100</text>
<line x1="722.01" y1="657" x2="722.01" y2="659.9" stroke="#3a3a3a" stroke-width="1" />
<line x1="731.18" y1="657" x2="731.18" y2="659.9" stroke="#3a3a3a" stroke-width="1" />
<line x1="740.34" y1="657" x2="740.34" y2="659.9" stroke="#3a3a3a" stroke-width="1" />
<line x1="749.5" y1="657" x2="749.5" y2="662.4" stroke="#262626" stroke-width="1.1" />
<text transform="translate(738.42 676.1) scale(0.9200 1)" font-size="9.9" fill="#1c1c1c" stroke="#1c1c1c" stroke-width="0.18" >20K</text>
<line x1="758.66" y1="657" x2="758.66" y2="659.9" stroke="#3a3a3a" stroke-width="1" />
<line x1="767.83" y1="657" x2="767.83" y2="659.9" stroke="#3a3a3a" stroke-width="1" />
<line x1="776.99" y1="657" x2="776.99" y2="659.9" stroke="#3a3a3a" stroke-width="1" />
<line x1="786.15" y1="657" x2="786.15" y2="662.4" stroke="#262626" stroke-width="1.1" />
<text transform="translate(775.2 676.1) scale(0.9200 1)" font-size="9.9" fill="#1c1c1c" stroke="#1c1c1c" stroke-width="0.18" >40K</text>
<line x1="795.31" y1="657" x2="795.31" y2="659.9" stroke="#3a3a3a" stroke-width="1" />
<line x1="804.48" y1="657" x2="804.48" y2="659.9" stroke="#3a3a3a" stroke-width="1" />
<line x1="813.64" y1="657" x2="813.64" y2="659.9" stroke="#3a3a3a" stroke-width="1" />
<line x1="822.8" y1="657" x2="822.8" y2="662.4" stroke="#262626" stroke-width="1.1" />
<text transform="translate(811.72 676.1) scale(0.9200 1)" font-size="9.9" fill="#1c1c1c" stroke="#1c1c1c" stroke-width="0.18" >60K</text>
<line x1="831.96" y1="657" x2="831.96" y2="659.9" stroke="#3a3a3a" stroke-width="1" />
<line x1="841.12" y1="657" x2="841.12" y2="659.9" stroke="#3a3a3a" stroke-width="1" />
<line x1="850.29" y1="657" x2="850.29" y2="659.9" stroke="#3a3a3a" stroke-width="1" />
<line x1="859.45" y1="657" x2="859.45" y2="662.4" stroke="#262626" stroke-width="1.1" />
<text transform="translate(848.41 676.1) scale(0.9200 1)" font-size="9.9" fill="#1c1c1c" stroke="#1c1c1c" stroke-width="0.18" >80K</text>
<line x1="868.61" y1="657" x2="868.61" y2="659.9" stroke="#3a3a3a" stroke-width="1" />
<line x1="877.78" y1="657" x2="877.78" y2="659.9" stroke="#3a3a3a" stroke-width="1" />
<line x1="886.94" y1="657" x2="886.94" y2="659.9" stroke="#3a3a3a" stroke-width="1" />
<line x1="896.1" y1="657" x2="896.1" y2="662.4" stroke="#262626" stroke-width="1.1" />
<text transform="translate(884.28 676.1) scale(0.9200 1)" font-size="9.9" fill="#1c1c1c" stroke="#1c1c1c" stroke-width="0.18" >100K</text>
<text transform="translate(782.48 693.2) scale(0.9000 1)" font-size="9.7" fill="#1c1c1c" stroke="#1c1c1c" stroke-width="0.18" >FL2-A:: PE-A</text>
<text transform="translate(676.2 574.64) rotate(-90) scale(0.9200 1)" font-size="9.9" fill="#1c1c1c" stroke="#1c1c1c" stroke-width="0.18">Count</text>
</g>
<g>
<path d="M1008.5,652.9 1010.2,649.2 1012.1,646.4 1013.9,645.4 1016.5,645.4 1018.4,644.1 1020.3,641.6 1022.2,638.4 1024.1,635.3 1025.9,631.5 1027.5,626.4 1028.7,621.4 1030.0,615.1 1031.3,607.5 1032.5,598.6 1033.8,589.8 1035.0,579.7 1036.3,569.6 1037.3,562.0 1038.7,542.7 1040.3,525.7 1042.0,511.2 1043.5,500.3 1044.7,496.7 1045.9,496.7 1047.4,501.5 1048.3,511.2 1049.6,525.7 1050.8,540.3 1052.0,552.4 1052.7,562.0 1054.0,568.3 1055.6,573.4 1057.3,578.4 1058.8,583.5 1060.3,587.3 1061.9,589.2 1063.6,591.3 1065.1,593.3 1066.6,591.7 1068.3,589.2 1069.9,586.0 1071.4,583.5 1072.7,580.9 1073.9,582.8 1075.2,586.6 1077.1,589.2 1078.7,592.3 1080.3,597.4 1081.8,602.4 1083.4,607.5 1085.0,615.3 1087.0,622.4 1089.0,628.5 1091.1,631.0 1092.6,631.0 1094.1,633.5 1095.6,636.5 1097.1,638.1 1099.1,638.1 1100.7,638.4 1102.2,640.6 1103.7,643.1 1105.2,645.1 1106.7,645.6 1108.7,644.8 1110.8,643.6 1112.3,643.1 1113.8,643.8 1115.3,645.4 1117.3,647.5 1119.8,649.2 1121.9,650.7 1123.9,651.9 1125.9,652.0 1127.9,651.5 1129.9,651.3 1132.0,651.7 1134.5,651.9 1136.5,652.0 1138.5,652.7 1141.1,653.5 1143.6,653.7 1146.6,653.9 1149.6,654.3 1155.7,654.3 1160.8,654.2 1163.8,654.3 1165.8,654.7 1170.9,654.9 1175.9,655.0 1182.0,655.0 1188.0,654.9 1191.1,654.5 1193.6,653.7 1195.6,652.9" fill="none" stroke="#0c0c0c" stroke-width="1.25" stroke-linejoin="round"/>
<path d="M1018.9,656.1 1019.6,655.9 1020.3,655.4 1021.0,654.8 1021.8,654.1 1022.5,653.2 1023.2,652.1 1023.9,650.8 1024.6,649.2 1025.4,647.2 1026.1,645.0 1026.8,642.4 1027.5,639.5 1028.2,636.1 1029.0,632.3 1029.7,628.0 1030.4,623.3 1031.1,618.2 1031.8,612.6 1032.5,606.6 1033.3,600.2 1034.0,593.4 1034.7,586.4 1035.4,579.2 1036.1,571.8 1036.9,564.5 1037.6,557.2 1038.3,550.1 1039.0,543.4 1039.7,537.1 1040.5,531.4 1041.2,526.3 1041.9,522.0 1042.6,518.5 1043.3,516.0 1044.0,514.4 1044.8,513.8 1045.5,514.3 1046.2,515.7 1046.9,518.2 1047.6,521.5 1048.4,525.7 1049.1,530.7 1049.8,535.8 1050.5,541.2 1051.2,546.9 1052.0,552.8 1052.7,558.8 1053.4,564.7 1054.1,570.5 1054.8,575.9 1055.6,581.0 1056.3,585.7 1057.0,589.9 1057.7,593.5 1058.4,596.6 1059.1,599.1 1059.9,601.1 1060.6,602.6 1061.3,603.5 1062.0,604.1 1062.7,604.2 1063.5,603.9 1064.2,603.4 1064.9,602.6 1065.6,601.5 1066.3,600.3 1067.1,599.0 1067.8,597.6 1068.5,596.1 1069.2,594.7 1069.9,592.8 1070.7,591.1 1071.4,589.6 1072.1,588.3 1072.8,587.3 1073.5,586.5 1074.2,586.0 1075.0,585.7 1075.7,585.8 1076.4,586.1 1077.1,586.7 1077.8,587.6 1078.6,588.8 1079.3,590.2 1080.0,591.9 1080.7,593.8 1081.4,596.0 1082.2,598.3 1082.9,600.8 1083.6,603.5 1084.3,606.2 1085.0,609.0 1085.8,611.9 1086.5,614.7 1087.2,617.6 1087.9,620.4 1088.6,623.2 1089.3,625.9 1090.1,628.5 1090.8,631.0 1091.5,633.4 1092.2,635.7 1092.9,637.8 1093.7,639.8 1094.4,641.7 1095.1,643.4 1095.8,644.9 1096.5,646.4 1097.3,647.7 1098.0,648.9 1098.7,649.9 1099.4,650.9 1100.1,651.7 1100.9,652.4 1101.6,653.1 1102.3,653.7 1103.0,654.2 1103.7,654.6 1104.4,655.0 1105.2,655.3 1105.9,655.6 1106.6,655.8 1107.3,656.0 1108.0,656.1" fill="none" stroke="#f410e4" stroke-width="1.85" stroke-linejoin="round"/>
<path d="M1023.9,656.1 1024.6,656.1 1025.4,656.0 1026.1,655.9 1026.8,655.8 1027.5,655.7 1028.2,655.6 1029.0,655.5 1029.7,655.3 1030.4,655.2 1031.1,655.0 1031.8,654.8 1032.5,654.6 1033.3,654.4 1034.0,654.2 1034.7,654.0 1035.4,653.8 1036.1,653.5 1036.9,653.3 1037.6,653.1 1038.3,652.8 1039.0,652.6 1039.7,652.3 1040.5,652.1 1041.2,651.9 1041.9,651.7 1042.6,651.5 1043.3,651.3 1044.0,651.1 1044.8,651.0 1045.5,650.8 1046.2,650.7 1046.9,650.7 1047.6,650.6 1048.4,650.6 1049.1,650.6 1049.8,650.6 1050.5,650.7 1051.2,650.8 1052.0,650.9 1052.7,651.0 1053.4,651.1 1054.1,651.3 1054.8,651.5 1055.6,651.7 1056.3,651.9 1057.0,652.1 1057.7,652.4 1058.4,652.6 1059.1,652.8 1059.9,653.1 1060.6,653.3 1061.3,653.5 1062.0,653.8 1062.7,654.0 1063.5,654.2 1064.2,654.4 1064.9,654.6 1065.6,654.7 1066.3,654.9 1067.1,655.1 1067.8,655.2 1068.5,655.3 1069.2,655.5 1069.9,655.6 1070.7,655.7 1071.4,655.8 1072.1,655.8 1072.8,655.9 1073.5,656.0 1074.2,656.0 1075.0,656.1 1075.7,656.1 L1075.7,656.1 L1023.9,656.1Z" fill="#ebb21c" fill-opacity="0.5" stroke="#96a428" stroke-width="0.8" stroke-opacity="0.8"/>
<path d="M1049.1,656.1 1049.8,655.6 1050.5,654.9 1051.2,654.1 1052.0,653.1 1052.7,652.1 1053.4,650.9 1054.1,649.6 1054.8,648.1 1055.6,646.5 1056.3,644.8 1057.0,642.9 1057.7,640.9 1058.4,638.7 1059.1,636.4 1059.9,634.0 1060.6,631.4 1061.3,628.7 1062.0,625.9 1062.7,623.1 1063.5,620.1 1064.2,617.1 1064.9,614.1 1065.6,611.2 1066.3,608.2 1067.1,605.3 1067.8,602.5 1068.5,599.9 1069.2,597.4 1069.9,595.0 1070.7,592.9 1071.4,591.0 1072.1,589.4 1072.8,588.1 1073.5,587.1 1074.2,586.4 1075.0,586.0 1075.7,585.9 1076.4,586.2 1077.1,586.7 1077.8,587.6 1078.6,588.8 1079.3,590.2 1080.0,591.9 1080.7,593.8 1081.4,596.0 1082.2,598.3 1082.9,600.8 1083.6,603.5 1084.3,606.2 1085.0,609.0 1085.8,611.9 1086.5,614.7 1087.2,617.6 1087.9,620.4 1088.6,623.2 1089.3,625.9 1090.1,628.5 1090.8,631.0 1091.5,633.4 1092.2,635.7 1092.9,637.8 1093.7,639.8 1094.4,641.7 1095.1,643.4 1095.8,644.9 1096.5,646.4 1097.3,647.7 1098.0,648.9 1098.7,649.9 1099.4,650.9 1100.1,651.7 1100.9,652.4 1101.6,653.1 1102.3,653.7 1103.0,654.2 1103.7,654.6 1104.4,655.0 1105.2,655.3 1105.9,655.6 1106.6,655.8 1107.3,656.0 1108.0,656.1 L1108.0,656.1 L1049.1,656.1Z" fill="#12f6ea" fill-opacity="0.5"/>
<path d="M1018.9,656.1 1019.6,655.9 1020.3,655.4 1021.0,654.8 1021.8,654.1 1022.5,653.2 1023.2,652.1 1023.9,650.8 1024.6,649.2 1025.4,647.4 1026.1,645.2 1026.8,642.7 1027.5,639.9 1028.2,636.6 1029.0,632.9 1029.7,628.8 1030.4,624.3 1031.1,619.3 1031.8,613.9 1032.5,608.0 1033.3,601.8 1034.0,595.3 1034.7,588.5 1035.4,581.5 1036.1,574.4 1036.9,567.3 1037.6,560.2 1038.3,553.4 1039.0,546.9 1039.7,540.9 1040.5,535.4 1041.2,530.5 1041.9,526.4 1042.6,523.1 1043.3,520.8 1044.0,519.4 1044.8,519.0 1045.5,519.5 1046.2,521.1 1046.9,523.6 1047.6,527.0 1048.4,531.3 1049.1,536.3 1049.8,541.9 1050.5,548.1 1051.2,554.7 1052.0,561.5 1052.7,568.6 1053.4,575.8 1054.1,582.9 1054.8,589.9 1055.6,596.7 1056.3,603.2 1057.0,609.4 1057.7,615.2 1058.4,620.5 1059.1,625.5 1059.9,630.0 1060.6,634.0 1061.3,637.6 1062.0,640.9 1062.7,643.7 1063.5,646.1 1064.2,648.2 1064.9,650.0 1065.6,651.5 1066.3,652.8 1067.1,653.9 1067.8,654.7 1068.5,655.5 1069.2,656.1 1069.9,656.1 L1069.9,656.1 L1018.9,656.1Z" fill="#2fb012" fill-opacity="0.5"/>
<path d="M1021.8,654.9 1022.5,654.3 1023.2,653.6 1023.9,652.6 1024.6,651.4 1025.4,650.0 1026.1,648.3 1026.8,646.3 1027.5,643.9 1028.2,641.2 1029.0,637.9 1029.7,634.3 1030.4,630.1 1031.1,625.5 1031.8,620.3 1032.5,614.7 1033.3,608.5 1034.0,602.0 1034.7,595.1 1035.4,587.9 1036.1,580.4 1036.9,572.9 1037.6,565.4 1038.3,558.0 1039.0,550.9 1039.7,544.3 1040.5,538.2 1041.2,532.7 1041.9,528.2 1042.6,524.5 1043.3,521.8 1044.0,520.2 1044.8,519.8 1045.5,520.4 1046.2,522.2 1046.9,525.0 1047.6,528.9 1048.4,533.6 1049.1,539.1 1049.8,545.4 1050.5,552.1 1051.2,559.3 1052.0,566.7 1052.7,574.2" fill="none" stroke="#0b3a0b" stroke-width="1.1" stroke-opacity="0.8" stroke-dasharray="3 1.6"/>
<path d="M1051.2,554.7 1052.0,561.5 1052.7,568.6 1053.4,575.8 1054.1,582.9 1054.8,589.9 1055.6,596.7 1056.3,603.2 1057.0,609.4 1057.7,615.2 1058.4,620.5 1059.1,625.5 1059.9,630.0 1060.6,634.0 1061.3,637.6 1062.0,640.9 1062.7,643.7 1063.5,646.1 1064.2,648.2 1064.9,650.0 1065.6,651.5 1066.3,652.8 1067.1,653.9 1067.8,654.7 1068.5,655.5 1069.2,656.1 1069.9,656.1" fill="none" stroke="#36a82a" stroke-width="0.9" stroke-opacity="0.8"/>
<path d="M1049.1,656.1 1049.8,655.6 1050.5,654.9 1051.2,654.1 1052.0,653.1 1052.7,652.1 1053.4,650.9 1054.1,649.6 1054.8,648.1 1055.6,646.5 1056.3,644.8 1057.0,642.9 1057.7,640.9 1058.4,638.7 1059.1,636.4 1059.9,634.0 1060.6,631.4 1061.3,628.7 1062.0,625.9 1062.7,623.1 1063.5,620.1 1064.2,617.1 1064.9,614.1 1065.6,611.2 1066.3,608.2 1067.1,605.3 1067.8,602.5 1068.5,599.9 1069.2,597.4 1069.9,595.0 1070.7,592.9 1071.4,591.0 1072.1,589.4 1072.8,588.1" fill="none" stroke="#22c4b0" stroke-width="0.7" stroke-opacity="0.6"/>
<path d="M1076.4,586.2 1077.1,586.7 1077.8,587.6 1078.6,588.8 1079.3,590.2 1080.0,591.9 1080.7,593.8 1081.4,596.0 1082.2,598.3 1082.9,600.8 1083.6,603.5 1084.3,606.2 1085.0,609.0 1085.8,611.9 1086.5,614.7 1087.2,617.6 1087.9,620.4 1088.6,623.2 1089.3,625.9 1090.1,628.5 1090.8,631.0 1091.5,633.4 1092.2,635.7 1092.9,637.8 1093.7,639.8 1094.4,641.7 1095.1,643.4 1095.8,644.9 1096.5,646.4 1097.3,647.7 1098.0,648.9 1098.7,649.9 1099.4,650.9 1100.1,651.7 1100.9,652.4 1101.6,653.1 1102.3,653.7 1103.0,654.2 1103.7,654.6 1104.4,655.0 1105.2,655.3 1105.9,655.6 1106.6,655.8 1107.3,656.0 1108.0,656.1" fill="none" stroke="#5590ff" stroke-width="1.7" stroke-opacity="0.95"/>
<line x1="1008.5" y1="468.6" x2="1196.5" y2="468.6" stroke="#3c3c3c" stroke-width="1.1" />
<line x1="1195.9" y1="468.6" x2="1195.9" y2="656.1" stroke="#262626" stroke-width="1.2" />
<line x1="1009" y1="468.6" x2="1009" y2="656.6" stroke="#262626" stroke-width="1.3" />
<line x1="1003.4" y1="656.1" x2="1196.4" y2="656.1" stroke="#262626" stroke-width="1.2" />
<line x1="1009.8" y1="656.2" x2="1195.9" y2="656.2" stroke="#44cfcf" stroke-width="1" />
<line x1="1006.1" y1="647.48" x2="1009" y2="647.48" stroke="#3a3a3a" stroke-width="1" />
<line x1="1006.1" y1="638.85" x2="1009" y2="638.85" stroke="#3a3a3a" stroke-width="1" />
<line x1="1006.1" y1="630.23" x2="1009" y2="630.23" stroke="#3a3a3a" stroke-width="1" />
<line x1="1003.4" y1="621.6" x2="1009" y2="621.6" stroke="#262626" stroke-width="1.1" />
<line x1="1006.1" y1="612.98" x2="1009" y2="612.98" stroke="#3a3a3a" stroke-width="1" />
<line x1="1006.1" y1="604.35" x2="1009" y2="604.35" stroke="#3a3a3a" stroke-width="1" />
<line x1="1006.1" y1="595.73" x2="1009" y2="595.73" stroke="#3a3a3a" stroke-width="1" />
<line x1="1003.4" y1="587.1" x2="1009" y2="587.1" stroke="#262626" stroke-width="1.1" />
<line x1="1006.1" y1="578.48" x2="1009" y2="578.48" stroke="#3a3a3a" stroke-width="1" />
<line x1="1006.1" y1="569.85" x2="1009" y2="569.85" stroke="#3a3a3a" stroke-width="1" />
<line x1="1006.1" y1="561.23" x2="1009" y2="561.23" stroke="#3a3a3a" stroke-width="1" />
<line x1="1003.4" y1="552.6" x2="1009" y2="552.6" stroke="#262626" stroke-width="1.1" />
<line x1="1006.1" y1="543.98" x2="1009" y2="543.98" stroke="#3a3a3a" stroke-width="1" />
<line x1="1006.1" y1="535.35" x2="1009" y2="535.35" stroke="#3a3a3a" stroke-width="1" />
<line x1="1006.1" y1="526.73" x2="1009" y2="526.73" stroke="#3a3a3a" stroke-width="1" />
<line x1="1003.4" y1="518.1" x2="1009" y2="518.1" stroke="#262626" stroke-width="1.1" />
<line x1="1006.1" y1="509.48" x2="1009" y2="509.48" stroke="#3a3a3a" stroke-width="1" />
<line x1="1006.1" y1="500.85" x2="1009" y2="500.85" stroke="#3a3a3a" stroke-width="1" />
<line x1="1006.1" y1="492.23" x2="1009" y2="492.23" stroke="#3a3a3a" stroke-width="1" />
<line x1="1003.4" y1="483.6" x2="1009" y2="483.6" stroke="#262626" stroke-width="1.1" />
<line x1="1006.1" y1="474.98" x2="1009" y2="474.98" stroke="#3a3a3a" stroke-width="1" />
<text transform="translate(994.99 656.4) scale(0.9200 1)" font-size="9.9" fill="#1c1c1c" stroke="#1c1c1c" stroke-width="0.18" >0</text>
<text transform="translate(989.93 625.1) scale(0.9200 1)" font-size="9.9" fill="#1c1c1c" stroke="#1c1c1c" stroke-width="0.18" >20</text>
<text transform="translate(989.93 590.6) scale(0.9200 1)" font-size="9.9" fill="#1c1c1c" stroke="#1c1c1c" stroke-width="0.18" >40</text>
<text transform="translate(989.93 556.1) scale(0.9200 1)" font-size="9.9" fill="#1c1c1c" stroke="#1c1c1c" stroke-width="0.18" >60</text>
<text transform="translate(989.93 521.6) scale(0.9200 1)" font-size="9.9" fill="#1c1c1c" stroke="#1c1c1c" stroke-width="0.18" >80</text>
<text transform="translate(984.85 487.1) scale(0.9200 1)" font-size="9.9" fill="#1c1c1c" stroke="#1c1c1c" stroke-width="0.18" >100</text>
<line x1="1017.09" y1="656.1" x2="1017.09" y2="659" stroke="#3a3a3a" stroke-width="1" />
<line x1="1026.08" y1="656.1" x2="1026.08" y2="659" stroke="#3a3a3a" stroke-width="1" />
<line x1="1035.06" y1="656.1" x2="1035.06" y2="659" stroke="#3a3a3a" stroke-width="1" />
<line x1="1044.05" y1="656.1" x2="1044.05" y2="661.5" stroke="#262626" stroke-width="1.1" />
<text transform="translate(1032.97 675.2) scale(0.9200 1)" font-size="9.9" fill="#1c1c1c" stroke="#1c1c1c" stroke-width="0.18" >20K</text>
<line x1="1053.04" y1="656.1" x2="1053.04" y2="659" stroke="#3a3a3a" stroke-width="1" />
<line x1="1062.03" y1="656.1" x2="1062.03" y2="659" stroke="#3a3a3a" stroke-width="1" />
<line x1="1071.01" y1="656.1" x2="1071.01" y2="659" stroke="#3a3a3a" stroke-width="1" />
<line x1="1080" y1="656.1" x2="1080" y2="661.5" stroke="#262626" stroke-width="1.1" />
<text transform="translate(1069.05 675.2) scale(0.9200 1)" font-size="9.9" fill="#1c1c1c" stroke="#1c1c1c" stroke-width="0.18" >40K</text>
<line x1="1088.99" y1="656.1" x2="1088.99" y2="659" stroke="#3a3a3a" stroke-width="1" />
<line x1="1097.97" y1="656.1" x2="1097.97" y2="659" stroke="#3a3a3a" stroke-width="1" />
<line x1="1106.96" y1="656.1" x2="1106.96" y2="659" stroke="#3a3a3a" stroke-width="1" />
<line x1="1115.95" y1="656.1" x2="1115.95" y2="661.5" stroke="#262626" stroke-width="1.1" />
<text transform="translate(1104.87 675.2) scale(0.9200 1)" font-size="9.9" fill="#1c1c1c" stroke="#1c1c1c" stroke-width="0.18" >60K</text>
<line x1="1124.94" y1="656.1" x2="1124.94" y2="659" stroke="#3a3a3a" stroke-width="1" />
<line x1="1133.92" y1="656.1" x2="1133.92" y2="659" stroke="#3a3a3a" stroke-width="1" />
<line x1="1142.91" y1="656.1" x2="1142.91" y2="659" stroke="#3a3a3a" stroke-width="1" />
<line x1="1151.9" y1="656.1" x2="1151.9" y2="661.5" stroke="#262626" stroke-width="1.1" />
<text transform="translate(1140.86 675.2) scale(0.9200 1)" font-size="9.9" fill="#1c1c1c" stroke="#1c1c1c" stroke-width="0.18" >80K</text>
<line x1="1160.89" y1="656.1" x2="1160.89" y2="659" stroke="#3a3a3a" stroke-width="1" />
<line x1="1169.88" y1="656.1" x2="1169.88" y2="659" stroke="#3a3a3a" stroke-width="1" />
<line x1="1178.86" y1="656.1" x2="1178.86" y2="659" stroke="#3a3a3a" stroke-width="1" />
<line x1="1187.85" y1="656.1" x2="1187.85" y2="661.5" stroke="#262626" stroke-width="1.1" />
<text transform="translate(1176.03 675.2) scale(0.9200 1)" font-size="9.9" fill="#1c1c1c" stroke="#1c1c1c" stroke-width="0.18" >100K</text>
<text transform="translate(1075.68 692.3) scale(0.9000 1)" font-size="9.7" fill="#1c1c1c" stroke="#1c1c1c" stroke-width="0.18" >FL2-A:: PE-A</text>
<text transform="translate(970.9 574.69) rotate(-90) scale(0.9200 1)" font-size="9.9" fill="#1c1c1c" stroke="#1c1c1c" stroke-width="0.18">Count</text>
</g>
<g>
<path d="M1301.9,656.6 1303.8,654.1 1305.7,651.5 1307.6,649.4 1309.5,648.4 1311.4,647.7 1313.3,645.8 1314.9,642.1 1316.4,637.0 1317.9,630.7 1319.2,625.0 1320.8,622.5 1322.7,620.6 1324.6,619.3 1326.3,616.8 1327.5,611.7 1328.8,604.2 1330.1,594.1 1331.3,581.4 1332.6,568.8 1333.1,565.0 1334.6,547.5 1336.3,528.2 1338.0,508.8 1339.4,494.2 1340.6,488.2 1341.9,494.2 1343.3,511.2 1344.8,530.6 1346.2,547.5 1347.7,557.2 1349.1,562.1 1350.5,565.0 1351.5,570.1 1352.8,577.6 1354.1,585.2 1355.3,591.5 1356.8,594.7 1358.4,597.6 1360.0,599.4 1361.6,598.9 1363.2,598.1 1364.7,596.3 1365.9,593.4 1367.2,591.8 1368.8,591.3 1370.1,592.2 1371.4,596.6 1372.6,601.0 1373.9,604.2 1375.5,605.4 1377.1,607.9 1378.6,611.7 1380.2,614.9 1381.9,619.3 1383.4,624.4 1384.9,628.2 1386.5,632.6 1388.4,637.0 1390.3,640.8 1392.2,643.9 1393.1,643.1 1394.6,643.8 1396.6,643.1 1398.6,644.1 1401.2,645.6 1403.7,647.8 1406.2,649.6 1408.7,651.2 1411.3,652.0 1414.3,652.0 1416.3,652.2 1418.3,653.2 1420.9,654.0 1423.4,654.0 1426.4,653.9 1428.4,653.9 1430.5,654.9 1433.0,656.0 1435.5,656.7 1438.5,656.9 1442.6,656.9 1445.6,656.7 1447.6,656.0 1449.6,656.5 1452.7,656.9 1456.7,657.0 1459.7,657.7 1465.8,657.7 1471.9,657.7 1477.9,657.7 1484.0,657.7 1490.1,657.7 1492.1,656.9 1494.1,655.2 1495.3,654.2" fill="none" stroke="#0c0c0c" stroke-width="1.25" stroke-linejoin="round"/>
<path d="M1318.1,658.9 1318.8,658.4 1319.6,657.6 1320.3,656.6 1321.0,655.3 1321.8,653.7 1322.5,651.7 1323.3,649.2 1324.0,646.2 1324.8,642.7 1325.5,638.5 1326.3,633.6 1327.0,628.0 1327.7,621.6 1328.5,614.4 1329.2,606.5 1330.0,597.8 1330.7,588.5 1331.5,578.6 1332.2,568.3 1333.0,557.8 1333.7,547.2 1334.4,536.7 1335.2,526.7 1335.9,517.2 1336.7,508.6 1337.4,501.1 1338.2,494.9 1338.9,490.2 1339.7,487.0 1340.4,485.1 1341.1,484.7 1341.9,486.1 1342.6,489.0 1343.4,493.4 1344.1,499.1 1344.9,505.9 1345.6,513.6 1346.4,522.0 1347.1,530.8 1347.8,539.8 1348.6,548.8 1349.3,557.5 1350.1,565.8 1350.8,573.5 1351.6,580.5 1352.3,586.7 1353.0,592.1 1353.8,596.7 1354.5,600.5 1355.3,603.5 1356.0,605.8 1356.8,607.4 1357.5,608.4 1358.3,608.9 1359.0,609.0 1359.7,608.7 1360.5,608.1 1361.2,607.3 1362.0,606.4 1362.7,605.3 1363.5,604.0 1364.2,602.5 1365.0,601.1 1365.7,599.9 1366.4,598.8 1367.2,598.0 1367.9,597.3 1368.7,596.8 1369.4,596.5 1370.2,596.4 1370.9,596.5 1371.7,596.8 1372.4,597.3 1373.1,598.0 1373.9,598.9 1374.6,600.0 1375.4,601.2 1376.1,602.7 1376.9,604.2 1377.6,605.9 1378.4,607.8 1379.1,609.7 1379.8,611.7 1380.6,613.8 1381.3,615.9 1382.1,618.1 1382.8,620.3 1383.6,622.5 1384.3,624.7 1385.1,626.9 1385.8,629.1 1386.5,631.2 1387.3,633.2 1388.0,635.2 1388.8,637.1 1389.5,638.9 1390.3,640.7 1391.0,642.3 1391.7,643.9 1392.5,645.4 1393.2,646.7 1394.0,648.0 1394.7,649.2 1395.5,650.3 1396.2,651.3 1397.0,652.2 1397.7,653.1 1398.4,653.8 1399.2,654.5 1399.9,655.2 1400.7,655.7 1401.4,656.2 1402.2,656.7 1402.9,657.1 1403.7,657.4 1404.4,657.7 1405.1,658.0 1405.9,658.2 1406.6,658.4 1407.4,658.6 1408.1,658.8 1408.9,658.9 1409.6,658.9" fill="none" stroke="#f410e4" stroke-width="1.85" stroke-linejoin="round"/>
<path d="M1339.7,658.9 1340.4,658.4 1341.1,657.7 1341.9,657.0 1342.6,656.2 1343.4,655.4 1344.1,654.4 1344.9,653.4 1345.6,652.3 1346.4,651.0 1347.1,649.7 1347.8,648.3 1348.6,646.8 1349.3,645.2 1350.1,643.4 1350.8,641.6 1351.6,639.7 1352.3,637.8 1353.0,635.7 1353.8,633.6 1354.5,631.4 1355.3,629.1 1356.0,626.8 1356.8,624.5 1357.5,622.2 1358.3,619.9 1359.0,617.6 1359.7,615.3 1360.5,613.1 1361.2,610.9 1362.0,608.9 1362.7,606.9 1363.5,605.1 1364.2,603.4 1365.0,601.9 1365.7,600.5 1366.4,599.3 1367.2,598.3 1367.9,597.5 1368.7,597.0 1369.4,596.6 1370.2,596.5 1370.9,596.5 1371.7,596.8 1372.4,597.3 1373.1,598.0 1373.9,598.9 1374.6,600.0 1375.4,601.2 1376.1,602.7 1376.9,604.2 1377.6,605.9 1378.4,607.8 1379.1,609.7 1379.8,611.7 1380.6,613.8 1381.3,615.9 1382.1,618.1 1382.8,620.3 1383.6,622.5 1384.3,624.7 1385.1,626.9 1385.8,629.1 1386.5,631.2 1387.3,633.2 1388.0,635.2 1388.8,637.1 1389.5,638.9 1390.3,640.7 1391.0,642.3 1391.7,643.9 1392.5,645.4 1393.2,646.7 1394.0,648.0 1394.7,649.2 1395.5,650.3 1396.2,651.3 1397.0,652.2 1397.7,653.1 1398.4,653.8 1399.2,654.5 1399.9,655.2 1400.7,655.7 1401.4,656.2 1402.2,656.7 1402.9,657.1 1403.7,657.4 1404.4,657.7 1405.1,658.0 1405.9,658.2 1406.6,658.4 1407.4,658.6 1408.1,658.8 1408.9,658.9 1409.6,658.9 L1409.6,658.9 L1339.7,658.9Z" fill="#12f6ea" fill-opacity="0.5"/>
<path d="M1318.1,658.9 1318.8,658.4 1319.6,657.6 1320.3,656.6 1321.0,655.3 1321.8,653.7 1322.5,651.7 1323.3,649.2 1324.0,646.2 1324.8,642.7 1325.5,638.5 1326.3,633.6 1327.0,628.0 1327.7,621.6 1328.5,614.4 1329.2,606.5 1330.0,597.8 1330.7,588.5 1331.5,578.6 1332.2,568.3 1333.0,557.8 1333.7,547.2 1334.4,536.7 1335.2,526.7 1335.9,517.2 1336.7,508.6 1337.4,501.1 1338.2,494.9 1338.9,490.2 1339.7,487.0 1340.4,485.6 1341.1,485.9 1341.9,487.9 1342.6,491.6 1343.4,496.9 1344.1,503.6 1344.9,511.5 1345.6,520.4 1346.4,530.1 1347.1,540.3 1347.8,550.9 1348.6,561.5 1349.3,572.0 1350.1,582.1 1350.8,591.8 1351.6,600.9 1352.3,609.3 1353.0,617.0 1353.8,623.9 1354.5,630.0 1355.3,635.3 1356.0,640.0 1356.8,643.9 1357.5,647.3 1358.3,650.1 1359.0,652.4 1359.7,654.2 1360.5,655.7 1361.2,656.9 1362.0,657.9 1362.7,658.6 1363.5,658.9 L1363.5,658.9 L1318.1,658.9Z" fill="#2fb012" fill-opacity="0.5"/>
<path d="M1321.0,656.9 1321.8,655.8 1322.5,654.4 1323.3,652.7 1324.0,650.4 1324.8,647.6 1325.5,644.3 1326.3,640.2 1327.0,635.3 1327.7,629.7 1328.5,623.1 1329.2,615.6 1330.0,607.3 1330.7,598.1 1331.5,588.2 1332.2,577.6 1333.0,566.5 1333.7,555.2 1334.4,543.9 1335.2,532.8 1335.9,522.3 1336.7,512.7 1337.4,504.2 1338.2,497.1 1338.9,491.7 1339.7,488.1 1340.4,486.4 1341.1,486.8 1341.9,489.1 1342.6,493.4 1343.4,499.4 1344.1,507.0 1344.9,515.9 1345.6,525.9 1346.4,536.6 1347.1,547.8 1347.8,559.1" fill="none" stroke="#0b3a0b" stroke-width="1.1" stroke-opacity="0.8" stroke-dasharray="3 1.6"/>
<path d="M1346.4,530.1 1347.1,540.3 1347.8,550.9 1348.6,561.5 1349.3,572.0 1350.1,582.1 1350.8,591.8 1351.6,600.9 1352.3,609.3 1353.0,617.0 1353.8,623.9 1354.5,630.0 1355.3,635.3 1356.0,640.0 1356.8,643.9 1357.5,647.3 1358.3,650.1 1359.0,652.4 1359.7,654.2 1360.5,655.7 1361.2,656.9 1362.0,657.9 1362.7,658.6 1363.5,658.9" fill="none" stroke="#36a82a" stroke-width="0.9" stroke-opacity="0.8"/>
<path d="M1339.7,658.9 1340.4,658.4 1341.1,657.7 1341.9,657.0 1342.6,656.2 1343.4,655.4 1344.1,654.4 1344.9,653.4 1345.6,652.3 1346.4,651.0 1347.1,649.7 1347.8,648.3 1348.6,646.8 1349.3,645.2 1350.1,643.4 1350.8,641.6 1351.6,639.7 1352.3,637.8 1353.0,635.7 1353.8,633.6 1354.5,631.4 1355.3,629.1 1356.0,626.8 1356.8,624.5 1357.5,622.2 1358.3,619.9 1359.0,617.6 1359.7,615.3 1360.5,613.1 1361.2,610.9 1362.0,608.9 1362.7,606.9 1363.5,605.1 1364.2,603.4 1365.0,601.9 1365.7,600.5 1366.4,599.3 1367.2,598.3 1367.9,597.5" fill="none" stroke="#22c4b0" stroke-width="0.7" stroke-opacity="0.6"/>
<path d="M1371.7,596.8 1372.4,597.3 1373.1,598.0 1373.9,598.9 1374.6,600.0 1375.4,601.2 1376.1,602.7 1376.9,604.2 1377.6,605.9 1378.4,607.8 1379.1,609.7 1379.8,611.7 1380.6,613.8 1381.3,615.9 1382.1,618.1 1382.8,620.3 1383.6,622.5 1384.3,624.7 1385.1,626.9 1385.8,629.1 1386.5,631.2 1387.3,633.2 1388.0,635.2 1388.8,637.1 1389.5,638.9 1390.3,640.7 1391.0,642.3 1391.7,643.9 1392.5,645.4 1393.2,646.7 1394.0,648.0 1394.7,649.2 1395.5,650.3 1396.2,651.3 1397.0,652.2 1397.7,653.1 1398.4,653.8 1399.2,654.5 1399.9,655.2 1400.7,655.7 1401.4,656.2 1402.2,656.7 1402.9,657.1 1403.7,657.4 1404.4,657.7 1405.1,658.0 1405.9,658.2 1406.6,658.4 1407.4,658.6 1408.1,658.8 1408.9,658.9 1409.6,658.9" fill="none" stroke="#5590ff" stroke-width="1.7" stroke-opacity="0.95"/>
<line x1="1301.7" y1="465.4" x2="1496.2" y2="465.4" stroke="#3c3c3c" stroke-width="1.1" />
<line x1="1495.6" y1="465.4" x2="1495.6" y2="658.9" stroke="#262626" stroke-width="1.2" />
<line x1="1302.2" y1="465.4" x2="1302.2" y2="659.4" stroke="#262626" stroke-width="1.3" />
<line x1="1296.6" y1="658.9" x2="1496.1" y2="658.9" stroke="#262626" stroke-width="1.2" />
<line x1="1303" y1="659" x2="1495.6" y2="659" stroke="#44cfcf" stroke-width="1" />
<line x1="1299.3" y1="649.85" x2="1302.2" y2="649.85" stroke="#3a3a3a" stroke-width="1" />
<line x1="1299.3" y1="640.8" x2="1302.2" y2="640.8" stroke="#3a3a3a" stroke-width="1" />
<line x1="1299.3" y1="631.75" x2="1302.2" y2="631.75" stroke="#3a3a3a" stroke-width="1" />
<line x1="1296.6" y1="622.7" x2="1302.2" y2="622.7" stroke="#262626" stroke-width="1.1" />
<line x1="1299.3" y1="613.65" x2="1302.2" y2="613.65" stroke="#3a3a3a" stroke-width="1" />
<line x1="1299.3" y1="604.6" x2="1302.2" y2="604.6" stroke="#3a3a3a" stroke-width="1" />
<line x1="1299.3" y1="595.55" x2="1302.2" y2="595.55" stroke="#3a3a3a" stroke-width="1" />
<line x1="1296.6" y1="586.5" x2="1302.2" y2="586.5" stroke="#262626" stroke-width="1.1" />
<line x1="1299.3" y1="577.45" x2="1302.2" y2="577.45" stroke="#3a3a3a" stroke-width="1" />
<line x1="1299.3" y1="568.4" x2="1302.2" y2="568.4" stroke="#3a3a3a" stroke-width="1" />
<line x1="1299.3" y1="559.35" x2="1302.2" y2="559.35" stroke="#3a3a3a" stroke-width="1" />
<line x1="1296.6" y1="550.3" x2="1302.2" y2="550.3" stroke="#262626" stroke-width="1.1" />
<line x1="1299.3" y1="541.25" x2="1302.2" y2="541.25" stroke="#3a3a3a" stroke-width="1" />
<line x1="1299.3" y1="532.2" x2="1302.2" y2="532.2" stroke="#3a3a3a" stroke-width="1" />
<line x1="1299.3" y1="523.15" x2="1302.2" y2="523.15" stroke="#3a3a3a" stroke-width="1" />
<line x1="1296.6" y1="514.1" x2="1302.2" y2="514.1" stroke="#262626" stroke-width="1.1" />
<line x1="1299.3" y1="505.05" x2="1302.2" y2="505.05" stroke="#3a3a3a" stroke-width="1" />
<line x1="1299.3" y1="496" x2="1302.2" y2="496" stroke="#3a3a3a" stroke-width="1" />
<line x1="1299.3" y1="486.95" x2="1302.2" y2="486.95" stroke="#3a3a3a" stroke-width="1" />
<line x1="1296.6" y1="477.9" x2="1302.2" y2="477.9" stroke="#262626" stroke-width="1.1" />
<line x1="1299.3" y1="468.85" x2="1302.2" y2="468.85" stroke="#3a3a3a" stroke-width="1" />
<text transform="translate(1288.19 659.2) scale(0.9200 1)" font-size="9.9" fill="#1c1c1c" stroke="#1c1c1c" stroke-width="0.18" >0</text>
<text transform="translate(1283.13 626.2) scale(0.9200 1)" font-size="9.9" fill="#1c1c1c" stroke="#1c1c1c" stroke-width="0.18" >20</text>
<text transform="translate(1283.13 590) scale(0.9200 1)" font-size="9.9" fill="#1c1c1c" stroke="#1c1c1c" stroke-width="0.18" >40</text>
<text transform="translate(1283.13 553.8) scale(0.9200 1)" font-size="9.9" fill="#1c1c1c" stroke="#1c1c1c" stroke-width="0.18" >60</text>
<text transform="translate(1283.13 517.6) scale(0.9200 1)" font-size="9.9" fill="#1c1c1c" stroke="#1c1c1c" stroke-width="0.18" >80</text>
<text transform="translate(1278.05 481.4) scale(0.9200 1)" font-size="9.9" fill="#1c1c1c" stroke="#1c1c1c" stroke-width="0.18" >100</text>
<line x1="1311" y1="658.9" x2="1311" y2="661.8" stroke="#3a3a3a" stroke-width="1" />
<line x1="1320.31" y1="658.9" x2="1320.31" y2="661.8" stroke="#3a3a3a" stroke-width="1" />
<line x1="1329.61" y1="658.9" x2="1329.61" y2="661.8" stroke="#3a3a3a" stroke-width="1" />
<line x1="1338.91" y1="658.9" x2="1338.91" y2="664.3" stroke="#262626" stroke-width="1.1" />
<text transform="translate(1327.83 678) scale(0.9200 1)" font-size="9.9" fill="#1c1c1c" stroke="#1c1c1c" stroke-width="0.18" >20K</text>
<line x1="1348.21" y1="658.9" x2="1348.21" y2="661.8" stroke="#3a3a3a" stroke-width="1" />
<line x1="1357.52" y1="658.9" x2="1357.52" y2="661.8" stroke="#3a3a3a" stroke-width="1" />
<line x1="1366.82" y1="658.9" x2="1366.82" y2="661.8" stroke="#3a3a3a" stroke-width="1" />
<line x1="1376.12" y1="658.9" x2="1376.12" y2="664.3" stroke="#262626" stroke-width="1.1" />
<text transform="translate(1365.17 678) scale(0.9200 1)" font-size="9.9" fill="#1c1c1c" stroke="#1c1c1c" stroke-width="0.18" >40K</text>
<line x1="1385.42" y1="658.9" x2="1385.42" y2="661.8" stroke="#3a3a3a" stroke-width="1" />
<line x1="1394.73" y1="658.9" x2="1394.73" y2="661.8" stroke="#3a3a3a" stroke-width="1" />
<line x1="1404.03" y1="658.9" x2="1404.03" y2="661.8" stroke="#3a3a3a" stroke-width="1" />
<line x1="1413.33" y1="658.9" x2="1413.33" y2="664.3" stroke="#262626" stroke-width="1.1" />
<text transform="translate(1402.25 678) scale(0.9200 1)" font-size="9.9" fill="#1c1c1c" stroke="#1c1c1c" stroke-width="0.18" >60K</text>
<line x1="1422.63" y1="658.9" x2="1422.63" y2="661.8" stroke="#3a3a3a" stroke-width="1" />
<line x1="1431.93" y1="658.9" x2="1431.93" y2="661.8" stroke="#3a3a3a" stroke-width="1" />
<line x1="1441.24" y1="658.9" x2="1441.24" y2="661.8" stroke="#3a3a3a" stroke-width="1" />
<line x1="1450.54" y1="658.9" x2="1450.54" y2="664.3" stroke="#262626" stroke-width="1.1" />
<text transform="translate(1439.5 678) scale(0.9200 1)" font-size="9.9" fill="#1c1c1c" stroke="#1c1c1c" stroke-width="0.18" >80K</text>
<line x1="1459.84" y1="658.9" x2="1459.84" y2="661.8" stroke="#3a3a3a" stroke-width="1" />
<line x1="1469.14" y1="658.9" x2="1469.14" y2="661.8" stroke="#3a3a3a" stroke-width="1" />
<line x1="1478.45" y1="658.9" x2="1478.45" y2="661.8" stroke="#3a3a3a" stroke-width="1" />
<line x1="1487.75" y1="658.9" x2="1487.75" y2="664.3" stroke="#262626" stroke-width="1.1" />
<text transform="translate(1475.93 678) scale(0.9200 1)" font-size="9.9" fill="#1c1c1c" stroke="#1c1c1c" stroke-width="0.18" >100K</text>
<text transform="translate(1372.13 695.1) scale(0.9000 1)" font-size="9.7" fill="#1c1c1c" stroke="#1c1c1c" stroke-width="0.18" >FL2-A:: PE-A</text>
<text transform="translate(1264.1 574.49) rotate(-90) scale(0.9200 1)" font-size="9.9" fill="#1c1c1c" stroke="#1c1c1c" stroke-width="0.18">Count</text>
</g>
</g>
</svg>
</body>
</html>
